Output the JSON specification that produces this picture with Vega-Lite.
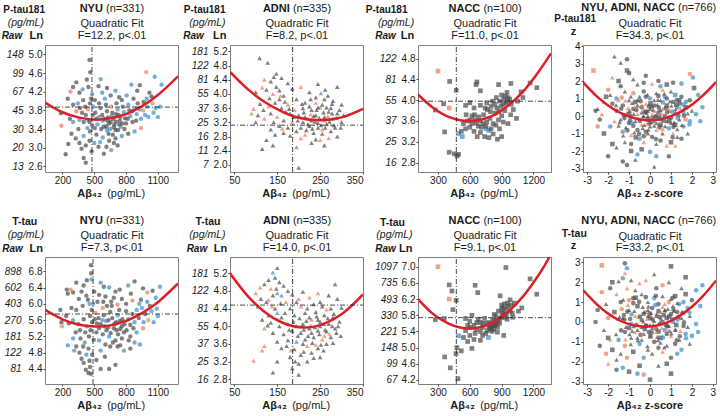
{
"$schema":"https://vega.github.io/schema/vega-lite/v6.json",
"padding":0,
"config":{"font":"Liberation Sans","view":{"stroke":"#7f7f7f","strokeWidth":1},
"axis":{"grid":false,"domain":false,"labelFont":"Liberation Sans","labelFontSize":10,"labelColor":"#1a1a1a","labelOverlap":false,"labelFlush":false,"labelBound":false,"tickSize":2,"tickColor":"#444","labelPadding":1,"titleFont":"Liberation Sans","titleFontSize":11,"titleFontWeight":"normal","titleColor":"#1a1a1a","titleBaseline":"alphabetic","titleAngle":0,"titlePadding":0}},
"datasets":{
"nyuP":[{"x":455,"y":4.88,"g":"a"},{"x":462,"y":4.62,"g":"a"},{"x":430,"y":4.46,"g":"a"},{"x":330,"y":4.4,"g":"a"},{"x":300,"y":4.3,"g":"a"},{"x":990,"y":4.62,"g":"c"},{"x":1070,"y":4.52,"g":"b"},{"x":560,"y":4.47,"g":"b"},{"x":275,"y":4.2,"g":"c"},{"x":850,"y":4.35,"g":"b"},{"x":930,"y":4.34,"g":"a"},{"x":1020,"y":4.18,"g":"a"},{"x":1040,"y":4.1,"g":"a"},{"x":620,"y":4.28,"g":"a"},{"x":700,"y":4.22,"g":"b"},{"x":540,"y":4.32,"g":"a"},{"x":480,"y":4.15,"g":"b"},{"x":390,"y":4.25,"g":"b"},{"x":360,"y":4.18,"g":"a"},{"x":250,"y":4.05,"g":"a"},{"x":185,"y":3.74,"g":"a"},{"x":190,"y":3.47,"g":"c"},{"x":300,"y":3.92,"g":"a"},{"x":330,"y":3.78,"g":"c"},{"x":360,"y":3.6,"g":"b"},{"x":400,"y":3.55,"g":"a"},{"x":420,"y":3.7,"g":"a"},{"x":440,"y":3.82,"g":"c"},{"x":460,"y":3.95,"g":"a"},{"x":470,"y":4.05,"g":"a"},{"x":490,"y":3.88,"g":"b"},{"x":510,"y":3.75,"g":"a"},{"x":520,"y":3.62,"g":"a"},{"x":530,"y":3.5,"g":"b"},{"x":545,"y":3.95,"g":"a"},{"x":560,"y":3.85,"g":"a"},{"x":575,"y":3.7,"g":"a"},{"x":580,"y":3.58,"g":"b"},{"x":590,"y":3.45,"g":"a"},{"x":600,"y":4.05,"g":"b"},{"x":610,"y":3.92,"g":"a"},{"x":620,"y":3.78,"g":"a"},{"x":630,"y":3.65,"g":"a"},{"x":640,"y":3.52,"g":"a"},{"x":650,"y":3.4,"g":"b"},{"x":660,"y":3.88,"g":"c"},{"x":670,"y":3.75,"g":"a"},{"x":680,"y":3.62,"g":"a"},{"x":690,"y":3.5,"g":"a"},{"x":700,"y":3.38,"g":"a"},{"x":710,"y":3.95,"g":"a"},{"x":720,"y":3.82,"g":"b"},{"x":730,"y":3.7,"g":"a"},{"x":740,"y":3.58,"g":"a"},{"x":750,"y":3.45,"g":"b"},{"x":760,"y":4.02,"g":"a"},{"x":770,"y":3.88,"g":"a"},{"x":780,"y":3.76,"g":"b"},{"x":790,"y":3.63,"g":"a"},{"x":800,"y":3.52,"g":"a"},{"x":820,"y":3.92,"g":"b"},{"x":830,"y":3.8,"g":"a"},{"x":840,"y":3.68,"g":"b"},{"x":860,"y":3.55,"g":"a"},{"x":870,"y":4.05,"g":"a"},{"x":880,"y":3.85,"g":"b"},{"x":900,"y":3.72,"g":"b"},{"x":910,"y":3.95,"g":"a"},{"x":940,"y":3.62,"g":"b"},{"x":960,"y":3.8,"g":"c"},{"x":980,"y":3.7,"g":"b"},{"x":1000,"y":3.88,"g":"b"},{"x":1010,"y":3.66,"g":"b"},{"x":1050,"y":3.95,"g":"c"},{"x":1080,"y":3.85,"g":"b"},{"x":1100,"y":3.66,"g":"b"},{"x":940,"y":3.42,"g":"c"},{"x":880,"y":3.35,"g":"b"},{"x":820,"y":3.3,"g":"a"},{"x":760,"y":3.25,"g":"b"},{"x":700,"y":3.2,"g":"a"},{"x":640,"y":3.15,"g":"a"},{"x":580,"y":3.22,"g":"b"},{"x":520,"y":3.28,"g":"a"},{"x":460,"y":3.35,"g":"a"},{"x":400,"y":3.25,"g":"b"},{"x":360,"y":3.1,"g":"a"},{"x":420,"y":3.05,"g":"a"},{"x":380,"y":2.98,"g":"a"},{"x":400,"y":2.78,"g":"a"},{"x":420,"y":2.68,"g":"a"},{"x":230,"y":2.86,"g":"a"},{"x":590,"y":2.87,"g":"a"},{"x":660,"y":2.95,"g":"b"},{"x":720,"y":3.05,"g":"a"},{"x":500,"y":3.1,"g":"b"},{"x":540,"y":3.02,"g":"a"},{"x":620,"y":3.38,"g":"b"},{"x":480,"y":3.48,"g":"a"},{"x":440,"y":3.6,"g":"b"},{"x":350,"y":3.4,"g":"a"},{"x":300,"y":3.55,"g":"b"},{"x":270,"y":3.62,"g":"a"},
{"x":615,"y":3.46,"g":"a"},{"x":655,"y":3.55,"g":"a"},{"x":685,"y":3.44,"g":"a"},{"x":705,"y":3.56,"g":"a"},{"x":725,"y":3.38,"g":"a"},{"x":745,"y":3.66,"g":"a"},{"x":765,"y":3.52,"g":"a"},{"x":635,"y":3.3,"g":"a"},{"x":675,"y":3.28,"g":"a"},{"x":595,"y":3.62,"g":"a"},{"x":565,"y":3.4,"g":"a"},{"x":545,"y":3.66,"g":"b"},{"x":505,"y":3.42,"g":"a"},{"x":485,"y":3.7,"g":"a"},{"x":455,"y":3.55,"g":"a"},{"x":435,"y":3.42,"g":"b"},{"x":415,"y":3.88,"g":"a"},{"x":385,"y":3.75,"g":"a"},{"x":395,"y":4.02,"g":"a"},{"x":345,"y":3.95,"g":"b"},{"x":325,"y":3.2,"g":"a"},{"x":285,"y":3.3,"g":"a"},{"x":255,"y":3.08,"g":"a"},{"x":455,"y":3.15,"g":"a"},{"x":475,"y":2.92,"g":"a"},{"x":555,"y":3.12,"g":"b"},{"x":615,"y":3.02,"g":"a"},{"x":685,"y":3.1,"g":"a"},{"x":785,"y":3.4,"g":"a"},{"x":815,"y":3.62,"g":"a"},{"x":855,"y":3.78,"g":"a"},{"x":895,"y":3.58,"g":"a"},{"x":925,"y":3.82,"g":"b"},{"x":965,"y":3.98,"g":"a"},{"x":995,"y":4.05,"g":"b"},{"x":1060,"y":3.75,"g":"b"},{"x":1120,"y":3.88,"g":"b"},{"x":1135,"y":4.35,"g":"b"},{"x":905,"y":4.22,"g":"a"},{"x":805,"y":4.12,"g":"b"},{"x":735,"y":4.08,"g":"a"},{"x":655,"y":4.12,"g":"a"},{"x":575,"y":4.18,"g":"b"},{"x":505,"y":4.02,"g":"a"},{"x":445,"y":4.3,"g":"a"},{"x":365,"y":3.85,"g":"a"},{"x":705,"y":3.72,"g":"a"},{"x":625,"y":3.58,"g":"a"},{"x":665,"y":3.68,"g":"b"},{"x":735,"y":3.5,"g":"a"}],
"adniP":[{"x":109,"y":5.01,"g":"a"},{"x":128,"y":4.88,"g":"a"},{"x":148,"y":4.57,"g":"a"},{"x":142,"y":4.48,"g":"a"},{"x":120,"y":4.4,"g":"c"},{"x":135,"y":4.35,"g":"a"},{"x":160,"y":4.45,"g":"a"},{"x":175,"y":4.3,"g":"a"},{"x":115,"y":4.18,"g":"c"},{"x":125,"y":4.12,"g":"a"},{"x":100,"y":4.05,"g":"a"},{"x":140,"y":4.0,"g":"c"},{"x":155,"y":4.1,"g":"a"},{"x":165,"y":3.95,"g":"a"},{"x":185,"y":4.15,"g":"a"},{"x":205,"y":4.2,"g":"c"},{"x":225,"y":4.05,"g":"a"},{"x":245,"y":4.28,"g":"a"},{"x":252,"y":4.02,"g":"b"},{"x":268,"y":3.95,"g":"a"},{"x":290,"y":4.2,"g":"a"},{"x":280,"y":3.8,"g":"a"},{"x":260,"y":3.85,"g":"a"},{"x":240,"y":3.9,"g":"a"},{"x":215,"y":3.75,"g":"a"},{"x":195,"y":3.85,"g":"a"},{"x":175,"y":3.7,"g":"c"},{"x":160,"y":3.6,"g":"a"},{"x":145,"y":3.75,"g":"a"},{"x":130,"y":3.65,"g":"c"},{"x":110,"y":3.72,"g":"a"},{"x":95,"y":3.58,"g":"c"},{"x":90,"y":3.45,"g":"c"},{"x":105,"y":3.4,"g":"a"},{"x":120,"y":3.3,"g":"c"},{"x":135,"y":3.45,"g":"a"},{"x":150,"y":3.35,"g":"c"},{"x":165,"y":3.25,"g":"a"},{"x":180,"y":3.45,"g":"a"},{"x":190,"y":3.55,"g":"c"},{"x":200,"y":3.4,"g":"a"},{"x":210,"y":3.6,"g":"a"},{"x":220,"y":3.3,"g":"c"},{"x":230,"y":3.55,"g":"a"},{"x":240,"y":3.4,"g":"a"},{"x":250,"y":3.62,"g":"c"},{"x":260,"y":3.35,"g":"a"},{"x":270,"y":3.5,"g":"a"},{"x":280,"y":3.3,"g":"a"},{"x":290,"y":3.45,"g":"a"},{"x":300,"y":3.2,"g":"a"},{"x":285,"y":3.05,"g":"a"},{"x":275,"y":2.95,"g":"a"},{"x":265,"y":3.15,"g":"a"},{"x":255,"y":3.0,"g":"c"},{"x":245,"y":3.18,"g":"a"},{"x":235,"y":2.9,"g":"a"},{"x":225,"y":3.1,"g":"a"},{"x":215,"y":2.85,"g":"c"},{"x":205,"y":3.05,"g":"a"},{"x":195,"y":2.95,"g":"a"},{"x":185,"y":3.2,"g":"c"},{"x":175,"y":3.05,"g":"a"},{"x":165,"y":2.9,"g":"a"},{"x":155,"y":3.1,"g":"a"},{"x":145,"y":2.85,"g":"a"},{"x":135,"y":3.0,"g":"a"},{"x":125,"y":2.7,"g":"a"},{"x":140,"y":2.55,"g":"a"},{"x":195,"y":2.5,"g":"b"},{"x":230,"y":2.62,"g":"a"},{"x":250,"y":2.7,"g":"c"},{"x":260,"y":2.55,"g":"a"},{"x":270,"y":2.75,"g":"c"},{"x":290,"y":2.8,"g":"a"},{"x":200,"y":1.92,"g":"a"},{"x":115,"y":2.45,"g":"a"},{"x":240,"y":3.75,"g":"c"},{"x":255,"y":3.7,"g":"a"},{"x":230,"y":3.25,"g":"a"},{"x":260,"y":3.25,"g":"c"},{"x":245,"y":3.05,"g":"a"},{"x":235,"y":3.38,"g":"a"},{"x":225,"y":3.65,"g":"a"},{"x":210,"y":3.2,"g":"a"},{"x":275,"y":3.6,"g":"a"},{"x":300,"y":3.7,"g":"a"},{"x":100,"y":3.2,"g":"a"},{"x":170,"y":3.5,"g":"a"},{"x":155,"y":3.85,"g":"a"},
{"x":212,"y":3.48,"g":"a"},{"x":222,"y":3.15,"g":"a"},{"x":228,"y":3.42,"g":"c"},{"x":238,"y":3.22,"g":"a"},{"x":242,"y":3.55,"g":"a"},{"x":248,"y":3.32,"g":"a"},{"x":252,"y":3.12,"g":"a"},{"x":258,"y":3.48,"g":"a"},{"x":262,"y":3.05,"g":"a"},{"x":268,"y":3.38,"g":"c"},{"x":272,"y":3.22,"g":"a"},{"x":278,"y":3.45,"g":"a"},{"x":282,"y":3.12,"g":"a"},{"x":288,"y":3.32,"g":"a"},{"x":295,"y":3.55,"g":"a"},{"x":232,"y":3.02,"g":"a"},{"x":218,"y":2.98,"g":"a"},{"x":198,"y":3.25,"g":"a"},{"x":188,"y":3.35,"g":"a"},{"x":178,"y":3.58,"g":"a"},{"x":168,"y":3.78,"g":"a"},{"x":158,"y":3.95,"g":"c"},{"x":148,"y":4.2,"g":"a"},{"x":132,"y":3.88,"g":"a"},{"x":118,"y":3.55,"g":"a"},{"x":142,"y":3.2,"g":"a"},{"x":162,"y":3.02,"g":"c"},{"x":208,"y":3.72,"g":"a"},{"x":228,"y":3.85,"g":"a"},{"x":262,"y":4.12,"g":"a"},{"x":278,"y":3.72,"g":"a"},{"x":298,"y":3.05,"g":"a"},{"x":305,"y":3.4,"g":"a"},{"x":255,"y":2.88,"g":"a"},{"x":240,"y":2.72,"g":"a"},{"x":205,"y":2.75,"g":"c"},{"x":180,"y":2.82,"g":"a"},{"x":265,"y":3.62,"g":"a"},{"x":245,"y":3.62,"g":"a"},{"x":215,"y":3.35,"g":"a"}],
"naccP":[{"x":300,"y":4.56,"g":"c"},{"x":410,"y":4.36,"g":"a"},{"x":472,"y":4.19,"g":"a"},{"x":406,"y":3.85,"g":"c"},{"x":353,"y":3.93,"g":"a"},{"x":275,"y":3.81,"g":"a"},{"x":363,"y":3.39,"g":"a"},{"x":406,"y":3.0,"g":"a"},{"x":455,"y":2.97,"g":"a"},{"x":494,"y":2.96,"g":"a"},{"x":480,"y":2.93,"g":"a"},{"x":667,"y":4.35,"g":"a"},{"x":660,"y":4.3,"g":"a"},{"x":700,"y":4.18,"g":"a"},{"x":871,"y":4.3,"g":"a"},{"x":987,"y":4.32,"g":"a"},{"x":1168,"y":4.33,"g":"a"},{"x":1231,"y":4.24,"g":"a"},{"x":1083,"y":4.16,"g":"a"},{"x":494,"y":3.36,"g":"b"},{"x":530,"y":3.3,"g":"b"},{"x":754,"y":3.45,"g":"b"},{"x":780,"y":3.42,"g":"b"},{"x":560,"y":3.9,"g":"a"},{"x":600,"y":3.95,"g":"a"},{"x":640,"y":3.85,"g":"a"},{"x":700,"y":3.9,"g":"a"},{"x":760,"y":3.95,"g":"a"},{"x":800,"y":3.88,"g":"a"},{"x":850,"y":4.05,"g":"a"},{"x":880,"y":3.98,"g":"a"},{"x":900,"y":4.1,"g":"a"},{"x":920,"y":4.02,"g":"a"},{"x":940,"y":3.95,"g":"a"},{"x":960,"y":4.05,"g":"a"},{"x":990,"y":3.92,"g":"a"},{"x":1010,"y":3.82,"g":"a"},{"x":930,"y":3.8,"g":"a"},{"x":900,"y":3.7,"g":"a"},{"x":870,"y":3.62,"g":"a"},{"x":840,"y":3.75,"g":"a"},{"x":820,"y":3.55,"g":"a"},{"x":790,"y":3.65,"g":"a"},{"x":760,"y":3.58,"g":"a"},{"x":730,"y":3.72,"g":"a"},{"x":700,"y":3.6,"g":"a"},{"x":680,"y":3.5,"g":"a"},{"x":650,"y":3.62,"g":"a"},{"x":620,"y":3.55,"g":"a"},{"x":600,"y":3.48,"g":"a"},{"x":580,"y":3.6,"g":"a"},{"x":560,"y":3.45,"g":"a"},{"x":540,"y":3.55,"g":"a"},{"x":520,"y":3.4,"g":"a"},{"x":640,"y":3.4,"g":"a"},{"x":670,"y":3.3,"g":"a"},{"x":700,"y":3.38,"g":"a"},{"x":740,"y":3.3,"g":"a"},{"x":780,"y":3.28,"g":"a"},{"x":820,"y":3.35,"g":"a"},{"x":860,"y":3.25,"g":"a"},{"x":900,"y":3.3,"g":"a"},{"x":960,"y":3.55,"g":"a"},{"x":1040,"y":3.65,"g":"a"},{"x":710,"y":3.48,"g":"a"},{"x":750,"y":3.5,"g":"a"},{"x":660,"y":3.56,"g":"a"},{"x":800,"y":3.45,"g":"a"},{"x":880,"y":3.45,"g":"a"},{"x":950,"y":4.15,"g":"a"},{"x":1100,"y":4.05,"g":"a"},{"x":1050,"y":3.98,"g":"a"},{"x":620,"y":3.7,"g":"a"},
{"x":765,"y":3.82,"g":"a"},{"x":795,"y":3.78,"g":"a"},{"x":815,"y":3.98,"g":"a"},{"x":835,"y":3.92,"g":"a"},{"x":855,"y":3.85,"g":"a"},{"x":875,"y":3.78,"g":"a"},{"x":895,"y":3.88,"g":"a"},{"x":915,"y":3.92,"g":"a"},{"x":935,"y":4.08,"g":"a"},{"x":955,"y":3.98,"g":"a"},{"x":975,"y":4.02,"g":"a"},{"x":915,"y":3.58,"g":"a"},{"x":845,"y":3.52,"g":"a"},{"x":725,"y":3.55,"g":"a"},{"x":685,"y":3.68,"g":"a"},{"x":645,"y":3.72,"g":"a"},{"x":605,"y":3.62,"g":"a"},{"x":565,"y":3.72,"g":"a"},{"x":745,"y":3.85,"g":"a"},{"x":985,"y":3.72,"g":"a"}],
"nyuT":[{"x":468,"y":6.95,"g":"a"},{"x":470,"y":6.75,"g":"a"},{"x":475,"y":6.6,"g":"b"},{"x":430,"y":6.58,"g":"a"},{"x":400,"y":6.45,"g":"a"},{"x":330,"y":6.52,"g":"a"},{"x":560,"y":6.52,"g":"b"},{"x":590,"y":6.42,"g":"a"},{"x":240,"y":6.35,"g":"a"},{"x":275,"y":6.35,"g":"c"},{"x":300,"y":6.28,"g":"a"},{"x":250,"y":6.25,"g":"a"},{"x":380,"y":6.3,"g":"a"},{"x":500,"y":6.3,"g":"a"},{"x":640,"y":6.4,"g":"b"},{"x":700,"y":6.3,"g":"a"},{"x":740,"y":6.35,"g":"a"},{"x":820,"y":6.45,"g":"b"},{"x":880,"y":6.55,"g":"a"},{"x":960,"y":6.38,"g":"a"},{"x":1000,"y":6.28,"g":"c"},{"x":1050,"y":6.32,"g":"a"},{"x":1120,"y":6.42,"g":"b"},{"x":1080,"y":6.15,"g":"b"},{"x":1000,"y":6.05,"g":"b"},{"x":940,"y":6.1,"g":"a"},{"x":860,"y":6.08,"g":"c"},{"x":800,"y":6.0,"g":"a"},{"x":760,"y":6.12,"g":"a"},{"x":720,"y":5.98,"g":"c"},{"x":660,"y":6.05,"g":"a"},{"x":620,"y":5.95,"g":"a"},{"x":580,"y":5.9,"g":"c"},{"x":530,"y":6.05,"g":"a"},{"x":490,"y":6.0,"g":"b"},{"x":440,"y":6.1,"g":"a"},{"x":390,"y":5.95,"g":"a"},{"x":330,"y":5.85,"g":"a"},{"x":180,"y":5.85,"g":"a"},{"x":190,"y":5.55,"g":"a"},{"x":195,"y":5.45,"g":"c"},{"x":260,"y":5.52,"g":"a"},{"x":300,"y":5.6,"g":"b"},{"x":350,"y":5.5,"g":"a"},{"x":400,"y":5.62,"g":"a"},{"x":430,"y":5.45,"g":"b"},{"x":460,"y":5.7,"g":"a"},{"x":480,"y":5.55,"g":"a"},{"x":510,"y":5.78,"g":"c"},{"x":540,"y":5.65,"g":"a"},{"x":560,"y":5.5,"g":"a"},{"x":590,"y":5.72,"g":"a"},{"x":610,"y":5.58,"g":"b"},{"x":630,"y":5.42,"g":"a"},{"x":650,"y":5.8,"g":"a"},{"x":670,"y":5.65,"g":"a"},{"x":690,"y":5.5,"g":"a"},{"x":710,"y":5.35,"g":"a"},{"x":720,"y":5.72,"g":"b"},{"x":740,"y":5.58,"g":"a"},{"x":760,"y":5.45,"g":"a"},{"x":780,"y":5.3,"g":"a"},{"x":800,"y":5.82,"g":"a"},{"x":820,"y":5.62,"g":"b"},{"x":840,"y":5.48,"g":"a"},{"x":860,"y":5.75,"g":"a"},{"x":880,"y":5.55,"g":"b"},{"x":900,"y":5.85,"g":"b"},{"x":920,"y":5.65,"g":"a"},{"x":950,"y":5.9,"g":"b"},{"x":980,"y":5.75,"g":"a"},{"x":1010,"y":5.6,"g":"c"},{"x":1040,"y":5.82,"g":"b"},{"x":1060,"y":5.55,"g":"b"},{"x":1100,"y":5.7,"g":"b"},{"x":960,"y":5.4,"g":"c"},{"x":900,"y":5.3,"g":"b"},{"x":840,"y":5.2,"g":"a"},{"x":760,"y":5.15,"g":"a"},{"x":700,"y":5.1,"g":"a"},{"x":640,"y":5.2,"g":"b"},{"x":580,"y":5.25,"g":"a"},{"x":520,"y":5.3,"g":"a"},{"x":450,"y":5.2,"g":"a"},{"x":410,"y":5.05,"g":"b"},{"x":370,"y":5.15,"g":"a"},{"x":330,"y":4.95,"g":"a"},{"x":310,"y":4.85,"g":"b"},{"x":360,"y":4.8,"g":"a"},{"x":380,"y":4.65,"g":"a"},{"x":400,"y":4.55,"g":"a"},{"x":420,"y":4.38,"g":"a"},{"x":445,"y":4.3,"g":"a"},{"x":460,"y":4.45,"g":"a"},{"x":470,"y":4.28,"g":"a"},{"x":520,"y":4.62,"g":"a"},{"x":560,"y":4.85,"g":"b"},{"x":600,"y":4.7,"g":"a"},{"x":650,"y":4.95,"g":"a"},{"x":700,"y":4.5,"g":"a"},{"x":780,"y":4.85,"g":"b"},{"x":720,"y":4.95,"g":"a"},{"x":840,"y":4.9,"g":"a"},{"x":880,"y":5.05,"g":"b"},{"x":930,"y":5.0,"g":"b"},{"x":640,"y":4.4,"g":"a"},{"x":560,"y":4.4,"g":"a"},{"x":480,"y":4.75,"g":"a"},{"x":300,"y":5.15,"g":"b"},{"x":250,"y":4.98,"g":"b"},
{"x":615,"y":5.35,"g":"a"},{"x":655,"y":5.28,"g":"a"},{"x":685,"y":5.4,"g":"a"},{"x":705,"y":5.55,"g":"a"},{"x":725,"y":5.25,"g":"a"},{"x":745,"y":5.38,"g":"a"},{"x":765,"y":5.62,"g":"a"},{"x":785,"y":5.5,"g":"a"},{"x":805,"y":5.35,"g":"a"},{"x":635,"y":5.6,"g":"a"},{"x":595,"y":5.45,"g":"a"},{"x":575,"y":5.6,"g":"b"},{"x":545,"y":5.4,"g":"a"},{"x":525,"y":5.52,"g":"a"},{"x":505,"y":5.62,"g":"a"},{"x":495,"y":5.12,"g":"a"},{"x":475,"y":5.85,"g":"a"},{"x":455,"y":6.0,"g":"b"},{"x":465,"y":5.35,"g":"a"},{"x":445,"y":4.9,"g":"a"},{"x":455,"y":4.6,"g":"a"},{"x":425,"y":4.75,"g":"b"},{"x":395,"y":4.95,"g":"a"},{"x":415,"y":5.3,"g":"a"},{"x":365,"y":5.35,"g":"a"},{"x":325,"y":5.3,"g":"a"},{"x":235,"y":5.7,"g":"a"},{"x":285,"y":5.9,"g":"a"},{"x":425,"y":6.2,"g":"a"},{"x":355,"y":6.12,"g":"a"},{"x":545,"y":6.22,"g":"a"},{"x":605,"y":6.18,"g":"a"},{"x":685,"y":6.15,"g":"a"},{"x":845,"y":6.25,"g":"a"},{"x":925,"y":6.0,"g":"b"},{"x":965,"y":5.55,"g":"b"},{"x":1025,"y":5.95,"g":"a"},{"x":1090,"y":5.88,"g":"b"},{"x":870,"y":5.4,"g":"a"},{"x":825,"y":5.1,"g":"a"},{"x":745,"y":4.98,"g":"a"},{"x":675,"y":5.05,"g":"a"},{"x":605,"y":5.0,"g":"a"},{"x":545,"y":5.1,"g":"b"},{"x":735,"y":5.85,"g":"a"},{"x":665,"y":5.95,"g":"a"},{"x":585,"y":6.05,"g":"a"}],
"adniT":[{"x":150,"y":5.32,"g":"a"},{"x":140,"y":5.22,"g":"b"},{"x":145,"y":5.1,"g":"a"},{"x":130,"y":5.05,"g":"a"},{"x":155,"y":5.0,"g":"a"},{"x":120,"y":4.95,"g":"a"},{"x":165,"y":4.92,"g":"a"},{"x":110,"y":4.88,"g":"c"},{"x":135,"y":4.85,"g":"c"},{"x":175,"y":4.8,"g":"a"},{"x":100,"y":4.75,"g":"c"},{"x":150,"y":4.75,"g":"b"},{"x":160,"y":4.7,"g":"b"},{"x":140,"y":4.7,"g":"a"},{"x":185,"y":4.72,"g":"a"},{"x":210,"y":4.78,"g":"a"},{"x":245,"y":4.75,"g":"c"},{"x":285,"y":4.95,"g":"a"},{"x":270,"y":4.7,"g":"a"},{"x":225,"y":4.65,"g":"c"},{"x":290,"y":4.62,"g":"a"},{"x":195,"y":4.55,"g":"a"},{"x":170,"y":4.55,"g":"c"},{"x":125,"y":4.55,"g":"a"},{"x":105,"y":4.45,"g":"a"},{"x":145,"y":4.4,"g":"a"},{"x":180,"y":4.4,"g":"a"},{"x":205,"y":4.45,"g":"c"},{"x":235,"y":4.5,"g":"a"},{"x":255,"y":4.45,"g":"a"},{"x":275,"y":4.4,"g":"a"},{"x":300,"y":4.42,"g":"a"},{"x":150,"y":4.3,"g":"b"},{"x":130,"y":4.25,"g":"a"},{"x":160,"y":4.2,"g":"a"},{"x":115,"y":4.15,"g":"a"},{"x":190,"y":4.25,"g":"a"},{"x":215,"y":4.3,"g":"a"},{"x":240,"y":4.32,"g":"a"},{"x":260,"y":4.25,"g":"a"},{"x":280,"y":4.2,"g":"a"},{"x":295,"y":4.1,"g":"a"},{"x":270,"y":4.05,"g":"a"},{"x":250,"y":4.1,"g":"a"},{"x":230,"y":4.15,"g":"c"},{"x":210,"y":4.05,"g":"a"},{"x":195,"y":4.0,"g":"a"},{"x":175,"y":4.05,"g":"a"},{"x":155,"y":4.0,"g":"a"},{"x":135,"y":4.08,"g":"a"},{"x":120,"y":3.95,"g":"c"},{"x":140,"y":3.85,"g":"a"},{"x":165,"y":3.82,"g":"a"},{"x":185,"y":3.9,"g":"a"},{"x":205,"y":3.85,"g":"a"},{"x":225,"y":3.95,"g":"a"},{"x":245,"y":3.9,"g":"a"},{"x":265,"y":3.88,"g":"a"},{"x":285,"y":3.95,"g":"a"},{"x":275,"y":3.75,"g":"a"},{"x":255,"y":3.7,"g":"c"},{"x":235,"y":3.75,"g":"a"},{"x":215,"y":3.7,"g":"a"},{"x":195,"y":3.65,"g":"b"},{"x":175,"y":3.68,"g":"a"},{"x":150,"y":3.65,"g":"a"},{"x":120,"y":3.55,"g":"c"},{"x":115,"y":3.45,"g":"c"},{"x":160,"y":3.5,"g":"a"},{"x":190,"y":3.48,"g":"a"},{"x":220,"y":3.55,"g":"c"},{"x":245,"y":3.5,"g":"a"},{"x":265,"y":3.6,"g":"a"},{"x":230,"y":3.4,"g":"a"},{"x":205,"y":3.35,"g":"a"},{"x":180,"y":3.3,"g":"a"},{"x":150,"y":3.2,"g":"a"},{"x":200,"y":3.15,"g":"a"},{"x":185,"y":3.05,"g":"a"},{"x":220,"y":3.2,"g":"a"},{"x":250,"y":3.3,"g":"a"},{"x":95,"y":3.22,"g":"c"},{"x":140,"y":2.95,"g":"a"},{"x":200,"y":2.9,"g":"a"},{"x":240,"y":3.58,"g":"c"},{"x":260,"y":3.78,"g":"c"},{"x":210,"y":3.6,"g":"a"},{"x":230,"y":3.85,"g":"a"},{"x":250,"y":4.0,"g":"a"},{"x":225,"y":4.2,"g":"a"},{"x":130,"y":4.6,"g":"c"},
{"x":212,"y":3.92,"g":"a"},{"x":218,"y":4.12,"g":"a"},{"x":222,"y":3.78,"g":"a"},{"x":228,"y":4.02,"g":"c"},{"x":232,"y":3.62,"g":"a"},{"x":238,"y":3.98,"g":"a"},{"x":242,"y":4.22,"g":"a"},{"x":248,"y":3.82,"g":"a"},{"x":252,"y":3.58,"g":"a"},{"x":258,"y":4.05,"g":"a"},{"x":262,"y":3.92,"g":"a"},{"x":268,"y":4.18,"g":"a"},{"x":272,"y":3.82,"g":"c"},{"x":278,"y":4.0,"g":"a"},{"x":282,"y":4.28,"g":"a"},{"x":288,"y":3.85,"g":"a"},{"x":292,"y":4.0,"g":"a"},{"x":202,"y":4.18,"g":"a"},{"x":198,"y":3.78,"g":"a"},{"x":188,"y":4.1,"g":"a"},{"x":178,"y":3.92,"g":"a"},{"x":168,"y":4.3,"g":"a"},{"x":158,"y":4.52,"g":"a"},{"x":148,"y":4.85,"g":"a"},{"x":138,"y":4.45,"g":"c"},{"x":128,"y":4.02,"g":"a"},{"x":112,"y":4.62,"g":"a"},{"x":172,"y":3.55,"g":"a"},{"x":182,"y":3.45,"g":"c"},{"x":192,"y":3.2,"g":"a"},{"x":212,"y":3.42,"g":"a"},{"x":235,"y":3.28,"g":"a"},{"x":258,"y":3.45,"g":"a"},{"x":280,"y":3.62,"g":"a"},{"x":298,"y":3.78,"g":"a"},{"x":265,"y":4.38,"g":"c"},{"x":250,"y":4.55,"g":"a"},{"x":220,"y":4.4,"g":"a"},{"x":200,"y":4.62,"g":"c"},{"x":245,"y":4.15,"g":"a"}],
"naccT":[{"x":300,"y":7.0,"g":"c"},{"x":406,"y":6.2,"g":"c"},{"x":406,"y":6.55,"g":"a"},{"x":432,"y":6.4,"g":"a"},{"x":472,"y":6.17,"g":"a"},{"x":441,"y":5.94,"g":"a"},{"x":275,"y":5.69,"g":"a"},{"x":360,"y":5.72,"g":"a"},{"x":494,"y":5.29,"g":"b"},{"x":776,"y":5.25,"g":"b"},{"x":363,"y":4.77,"g":"a"},{"x":416,"y":4.5,"g":"a"},{"x":478,"y":5.0,"g":"a"},{"x":488,"y":4.23,"g":"a"},{"x":470,"y":4.85,"g":"a"},{"x":520,"y":4.92,"g":"a"},{"x":620,"y":4.98,"g":"a"},{"x":650,"y":6.54,"g":"a"},{"x":675,"y":6.36,"g":"a"},{"x":940,"y":6.98,"g":"a"},{"x":886,"y":6.28,"g":"a"},{"x":980,"y":6.18,"g":"a"},{"x":1090,"y":5.98,"g":"a"},{"x":1168,"y":6.7,"g":"a"},{"x":1231,"y":6.32,"g":"a"},{"x":1058,"y":5.9,"g":"a"},{"x":560,"y":5.72,"g":"a"},{"x":600,"y":5.65,"g":"a"},{"x":640,"y":5.55,"g":"a"},{"x":680,"y":5.7,"g":"a"},{"x":700,"y":5.62,"g":"a"},{"x":720,"y":5.5,"g":"a"},{"x":740,"y":5.72,"g":"a"},{"x":760,"y":5.6,"g":"a"},{"x":790,"y":5.48,"g":"a"},{"x":820,"y":5.55,"g":"a"},{"x":840,"y":5.68,"g":"a"},{"x":860,"y":5.5,"g":"a"},{"x":880,"y":5.6,"g":"a"},{"x":900,"y":5.75,"g":"a"},{"x":920,"y":5.85,"g":"a"},{"x":940,"y":5.95,"g":"a"},{"x":960,"y":6.02,"g":"a"},{"x":900,"y":6.05,"g":"a"},{"x":870,"y":5.9,"g":"a"},{"x":830,"y":5.82,"g":"a"},{"x":800,"y":5.45,"g":"a"},{"x":810,"y":5.4,"g":"a"},{"x":780,"y":5.52,"g":"a"},{"x":700,"y":5.4,"g":"a"},{"x":650,"y":5.35,"g":"a"},{"x":600,"y":5.3,"g":"a"},{"x":560,"y":5.42,"g":"a"},{"x":540,"y":5.25,"g":"a"},{"x":580,"y":5.15,"g":"a"},{"x":640,"y":5.2,"g":"a"},{"x":700,"y":5.18,"g":"a"},{"x":750,"y":5.35,"g":"a"},{"x":860,"y":5.38,"g":"a"},{"x":920,"y":5.3,"g":"a"},{"x":1000,"y":5.85,"g":"a"},{"x":950,"y":5.7,"g":"a"},{"x":620,"y":5.8,"g":"a"},{"x":580,"y":5.55,"g":"a"},{"x":720,"y":5.3,"g":"a"},{"x":660,"y":5.45,"g":"a"},{"x":900,"y":5.95,"g":"a"},{"x":980,"y":5.9,"g":"a"},{"x":1020,"y":6.1,"g":"a"},{"x":850,"y":5.58,"g":"a"},
{"x":785,"y":5.62,"g":"a"},{"x":805,"y":5.52,"g":"a"},{"x":815,"y":5.68,"g":"a"},{"x":825,"y":5.45,"g":"a"},{"x":835,"y":5.55,"g":"a"},{"x":845,"y":5.78,"g":"a"},{"x":865,"y":5.65,"g":"a"},{"x":885,"y":5.72,"g":"a"},{"x":905,"y":5.85,"g":"a"},{"x":915,"y":5.98,"g":"a"},{"x":925,"y":6.08,"g":"a"},{"x":935,"y":5.75,"g":"a"},{"x":945,"y":5.82,"g":"a"},{"x":955,"y":6.1,"g":"a"},{"x":985,"y":6.05,"g":"a"},{"x":1005,"y":5.75,"g":"a"},{"x":765,"y":5.42,"g":"a"},{"x":725,"y":5.6,"g":"a"},{"x":665,"y":5.62,"g":"a"},{"x":605,"y":5.5,"g":"a"}],
"allP":[{"x":-1.7,"y":3.4,"g":"a","s":"ADNI"},{"x":-1.1,"y":3.25,"g":"a","s":"NYU"},{"x":-1.4,"y":3.05,"g":"a","s":"ADNI"},{"x":-1.1,"y":2.6,"g":"a","s":"NACC"},{"x":-1.0,"y":2.45,"g":"a","s":"NYU"},{"x":-2.7,"y":2.6,"g":"c","s":"NACC"},{"x":-1.8,"y":2.2,"g":"c","s":"ADNI"},{"x":-1.5,"y":2.0,"g":"a","s":"NACC"},{"x":-0.8,"y":2.1,"g":"a","s":"ADNI"},{"x":-0.3,"y":1.9,"g":"a","s":"NYU"},{"x":0.1,"y":1.85,"g":"c","s":"ADNI"},{"x":0.5,"y":1.7,"g":"b","s":"NYU"},{"x":0.8,"y":1.8,"g":"a","s":"NACC"},{"x":1.1,"y":1.9,"g":"a","s":"NYU"},{"x":1.5,"y":1.85,"g":"b","s":"NYU"},{"x":1.9,"y":2.4,"g":"c","s":"NYU"},{"x":2.05,"y":2.2,"g":"b","s":"NYU"},{"x":2.1,"y":1.6,"g":"a","s":"NACC"},{"x":2.3,"y":1.2,"g":"b","s":"NYU"},{"x":2.5,"y":0.5,"g":"b","s":"NYU"},{"x":2.0,"y":0.3,"g":"a","s":"ADNI"},{"x":-2.5,"y":0.4,"g":"a","s":"ADNI"},{"x":-2.6,"y":0.3,"g":"a","s":"NYU"},{"x":-2.5,"y":-0.6,"g":"c","s":"NYU"},{"x":-2.3,"y":0.1,"g":"c","s":"ADNI"},{"x":-2.1,"y":1.1,"g":"a","s":"NACC"},{"x":-2.0,"y":1.5,"g":"c","s":"NYU"},{"x":-2.2,"y":0.8,"g":"c","s":"ADNI"},{"x":-1.9,"y":1.2,"g":"a","s":"ADNI"},{"x":-1.9,"y":-0.6,"g":"b","s":"NYU"},{"x":-2.0,"y":-2.3,"g":"a","s":"NYU"},{"x":-1.8,"y":-1.6,"g":"a","s":"NACC"},{"x":-1.6,"y":-1.8,"g":"a","s":"ADNI"},{"x":-1.3,"y":-2.6,"g":"a","s":"NYU"},{"x":-1.1,"y":-2.8,"g":"a","s":"NYU"},{"x":-0.9,"y":-2.0,"g":"a","s":"NACC"},{"x":-0.6,"y":-2.2,"g":"b","s":"NYU"},{"x":-0.4,"y":-1.9,"g":"a","s":"NACC"},{"x":0.0,"y":-2.05,"g":"b","s":"NYU"},{"x":0.3,"y":-1.6,"g":"a","s":"ADNI"},{"x":0.2,"y":-2.9,"g":"a","s":"ADNI"},{"x":0.8,"y":-1.7,"g":"c","s":"ADNI"},{"x":1.0,"y":-1.5,"g":"a","s":"NACC"},{"x":1.3,"y":-1.2,"g":"a","s":"ADNI"},{"x":1.5,"y":-1.3,"g":"a","s":"NYU"},{"x":1.8,"y":-1.0,"g":"a","s":"ADNI"},{"x":1.6,"y":-0.6,"g":"b","s":"NYU"},{"x":1.9,"y":-0.3,"g":"b","s":"NYU"},{"x":2.2,"y":0.1,"g":"b","s":"NYU"},{"x":1.7,"y":0.5,"g":"a","s":"NACC"},{"x":1.4,"y":0.9,"g":"a","s":"NYU"},{"x":1.2,"y":1.2,"g":"b","s":"NACC"},{"x":-1.5,"y":0.9,"g":"c","s":"ADNI"},{"x":-1.3,"y":0.6,"g":"a","s":"NYU"},{"x":-1.2,"y":1.4,"g":"a","s":"ADNI"},{"x":-1.1,"y":0.2,"g":"c","s":"ADNI"},{"x":-1.0,"y":-0.4,"g":"a","s":"NYU"},{"x":-1.0,"y":0.9,"g":"a","s":"ADNI"},{"x":-0.9,"y":-1.1,"g":"c","s":"ADNI"},{"x":-0.8,"y":0.4,"g":"a","s":"NYU"},{"x":-0.8,"y":1.3,"g":"c","s":"NYU"},{"x":-0.7,"y":-0.3,"g":"a","s":"ADNI"},{"x":-0.7,"y":0.8,"g":"a","s":"NACC"},{"x":-0.6,"y":-0.8,"g":"a","s":"NYU"},{"x":-0.6,"y":0.1,"g":"c","s":"ADNI"},{"x":-0.5,"y":1.1,"g":"a","s":"ADNI"},{"x":-0.5,"y":-1.3,"g":"b","s":"NYU"},{"x":-0.4,"y":0.5,"g":"a","s":"NYU"},{"x":-0.4,"y":-0.5,"g":"c","s":"ADNI"},{"x":-0.3,"y":0.0,"g":"a","s":"ADNI"},{"x":-0.3,"y":1.4,"g":"a","s":"NYU"},{"x":-0.2,"y":-0.9,"g":"a","s":"NYU"},{"x":-0.2,"y":0.7,"g":"c","s":"ADNI"},{"x":-0.1,"y":-0.2,"g":"a","s":"NACC"},{"x":-0.1,"y":0.3,"g":"a","s":"ADNI"},{"x":0.0,"y":1.0,"g":"b","s":"NYU"},{"x":0.0,"y":-0.6,"g":"a","s":"ADNI"},{"x":0.1,"y":0.1,"g":"c","s":"ADNI"},{"x":0.1,"y":-1.2,"g":"a","s":"NYU"},{"x":0.2,"y":0.6,"g":"a","s":"NYU"},{"x":0.2,"y":-0.3,"g":"a","s":"ADNI"},{"x":0.3,"y":1.3,"g":"a","s":"ADNI"},{"x":0.3,"y":-0.8,"g":"c","s":"ADNI"},{"x":0.4,"y":0.2,"g":"a","s":"NYU"},{"x":0.4,"y":-0.1,"g":"b","s":"NYU"},{"x":0.5,"y":0.9,"g":"a","s":"ADNI"},{"x":0.5,"y":-0.5,"g":"a","s":"NACC"},{"x":0.6,"y":0.4,"g":"c","s":"ADNI"},{"x":0.6,"y":-1.0,"g":"a","s":"ADNI"},{"x":0.7,"y":0.0,"g":"a","s":"NYU"},{"x":0.7,"y":1.1,"g":"b","s":"NYU"},{"x":0.8,"y":-0.3,"g":"a","s":"ADNI"},{"x":0.8,"y":0.6,"g":"a","s":"NACC"},{"x":0.9,"y":-0.7,"g":"b","s":"NYU"},{"x":0.9,"y":0.3,"g":"c","s":"ADNI"},{"x":1.0,"y":1.4,"g":"a","s":"ADNI"},{"x":1.0,"y":-0.1,"g":"a","s":"NYU"},{"x":1.1,"y":0.8,"g":"a","s":"NYU"},{"x":1.1,"y":-1.0,"g":"c","s":"ADNI"},{"x":1.2,"y":0.2,"g":"a","s":"ADNI"},{"x":1.2,"y":-0.5,"g":"a","s":"NACC"},{"x":1.3,"y":0.5,"g":"b","s":"NYU"},{"x":1.4,"y":-0.2,"g":"a","s":"ADNI"},{"x":1.5,"y":1.1,"g":"a","s":"NYU"},{"x":1.6,"y":0.2,"g":"b","s":"NYU"},{"x":1.7,"y":-0.2,"g":"c","s":"NYU"},{"x":-1.4,"y":-0.2,"g":"a","s":"ADNI"},{"x":-1.3,"y":-0.9,"g":"b","s":"NYU"},{"x":-1.6,"y":0.3,"g":"a","s":"NYU"},{"x":-1.7,"y":-0.3,"g":"c","s":"ADNI"},{"x":-1.8,"y":0.7,"g":"a","s":"NYU"},{"x":-1.2,"y":-1.5,"g":"a","s":"ADNI"},{"x":-0.9,"y":-1.6,"g":"a","s":"NYU"},{"x":-0.3,"y":-1.5,"g":"c","s":"ADNI"},{"x":0.5,"y":-1.4,"g":"a","s":"NYU"},{"x":1.2,"y":-1.7,"g":"c","s":"ADNI"},{"x":-2.2,"y":-1.0,"g":"a","s":"NACC"},{"x":-2.4,"y":-0.2,"g":"a","s":"NYU"},{"x":2.4,"y":-0.3,"g":"b","s":"NYU"},{"x":-0.2,"y":2.3,"g":"a","s":"NYU"},{"x":-0.6,"y":1.8,"g":"a","s":"ADNI"},{"x":0.4,"y":2.0,"g":"a","s":"NYU"},{"x":-1.4,"y":1.7,"g":"a","s":"NYU"},{"x":0.9,"y":-2.3,"g":"a","s":"NYU"},{"x":-0.1,"y":-1.0,"g":"a","s":"ADNI"},{"x":0.2,"y":0.9,"g":"a","s":"ADNI"},{"x":-0.9,"y":0.0,"g":"a","s":"ADNI"},{"x":0.6,"y":1.5,"g":"c","s":"ADNI"},{"x":-1.6,"y":1.0,"g":"b","s":"NYU"},{"x":1.9,"y":0.9,"g":"a","s":"NYU"},{"x":0.3,"y":-2.3,"g":"b","s":"NYU"},{"x":-0.7,"y":-2.5,"g":"a","s":"ADNI"},
{"x":-1.25,"y":0.05,"g":"a","s":"NYU"},{"x":-1.15,"y":-0.65,"g":"a","s":"ADNI"},{"x":-1.05,"y":0.45,"g":"c","s":"ADNI"},{"x":-0.95,"y":-0.25,"g":"a","s":"NYU"},{"x":-0.85,"y":0.75,"g":"a","s":"ADNI"},{"x":-0.75,"y":-0.95,"g":"a","s":"ADNI"},{"x":-0.65,"y":0.35,"g":"a","s":"NYU"},{"x":-0.55,"y":-0.15,"g":"c","s":"ADNI"},{"x":-0.45,"y":0.85,"g":"a","s":"NYU"},{"x":-0.35,"y":-0.7,"g":"a","s":"ADNI"},{"x":-0.25,"y":0.25,"g":"a","s":"NACC"},{"x":-0.15,"y":-0.45,"g":"c","s":"ADNI"},{"x":-0.05,"y":0.55,"g":"a","s":"NYU"},{"x":0.05,"y":-0.35,"g":"a","s":"ADNI"},{"x":0.15,"y":0.35,"g":"a","s":"ADNI"},{"x":0.25,"y":-0.05,"g":"b","s":"NYU"},{"x":0.35,"y":0.65,"g":"a","s":"ADNI"},{"x":0.45,"y":-0.65,"g":"a","s":"NYU"},{"x":0.55,"y":0.15,"g":"c","s":"ADNI"},{"x":0.65,"y":-0.25,"g":"a","s":"NACC"},{"x":0.75,"y":0.45,"g":"a","s":"NYU"},{"x":0.85,"y":-0.05,"g":"a","s":"ADNI"},{"x":0.95,"y":0.85,"g":"a","s":"ADNI"},{"x":1.05,"y":0.25,"g":"b","s":"NYU"},{"x":1.15,"y":-0.35,"g":"a","s":"ADNI"},{"x":1.25,"y":0.65,"g":"a","s":"NACC"},{"x":1.35,"y":0.05,"g":"a","s":"NYU"},{"x":1.45,"y":0.45,"g":"c","s":"ADNI"},{"x":-0.6,"y":0.6,"g":"a","s":"ADNI"},{"x":-0.2,"y":1.1,"g":"a","s":"NYU"},{"x":0.2,"y":-0.55,"g":"a","s":"ADNI"},{"x":0.6,"y":-0.75,"g":"c","s":"ADNI"},{"x":1.0,"y":-0.4,"g":"a","s":"ADNI"},{"x":-1.0,"y":0.1,"g":"a","s":"NACC"},{"x":-0.3,"y":-1.15,"g":"a","s":"NYU"},{"x":0.4,"y":1.15,"g":"a","s":"NYU"},{"x":0.0,"y":0.4,"g":"a","s":"ADNI"},{"x":-0.4,"y":0.2,"g":"a","s":"ADNI"},{"x":0.8,"y":1.0,"g":"a","s":"NYU"},{"x":1.3,"y":-0.75,"g":"a","s":"ADNI"},{"x":-1.35,"y":1.05,"g":"c","s":"NYU"},{"x":-1.5,"y":-0.55,"g":"a","s":"ADNI"},{"x":1.6,"y":0.65,"g":"b","s":"NYU"},{"x":1.8,"y":0.15,"g":"a","s":"ADNI"},{"x":-0.8,"y":-0.55,"g":"a","s":"NYU"},{"x":0.3,"y":0.0,"g":"a","s":"NYU"},{"x":-0.1,"y":0.0,"g":"a","s":"ADNI"},{"x":0.5,"y":0.35,"g":"a","s":"ADNI"},
{"x":-1.45,"y":-0.35,"g":"a","s":"ADNI"},{"x":-1.38,"y":0.42,"g":"a","s":"NYU"},{"x":-1.28,"y":-1.12,"g":"a","s":"ADNI"},{"x":-1.18,"y":0.88,"g":"c","s":"ADNI"},{"x":-1.08,"y":-0.82,"g":"a","s":"NYU"},{"x":-0.98,"y":0.32,"g":"a","s":"ADNI"},{"x":-0.88,"y":-0.38,"g":"b","s":"NYU"},{"x":-0.78,"y":0.12,"g":"a","s":"ADNI"},{"x":-0.68,"y":-1.22,"g":"a","s":"NACC"},{"x":-0.58,"y":0.92,"g":"a","s":"ADNI"},{"x":-0.48,"y":-0.28,"g":"a","s":"NYU"},{"x":-0.38,"y":0.62,"g":"c","s":"ADNI"},{"x":-0.28,"y":-0.52,"g":"a","s":"ADNI"},{"x":-0.18,"y":0.18,"g":"a","s":"NYU"},{"x":-0.08,"y":-0.78,"g":"a","s":"ADNI"},{"x":0.02,"y":0.72,"g":"a","s":"NACC"},{"x":0.12,"y":-0.12,"g":"a","s":"NYU"},{"x":0.22,"y":0.28,"g":"c","s":"ADNI"},{"x":0.32,"y":-0.42,"g":"a","s":"ADNI"},{"x":0.42,"y":0.48,"g":"a","s":"NYU"},{"x":0.52,"y":-0.18,"g":"a","s":"ADNI"},{"x":0.62,"y":0.78,"g":"b","s":"NYU"},{"x":0.72,"y":-0.58,"g":"a","s":"ADNI"},{"x":0.82,"y":0.22,"g":"a","s":"NYU"},{"x":0.92,"y":-0.28,"g":"a","s":"NACC"},{"x":1.02,"y":0.58,"g":"a","s":"ADNI"},{"x":1.12,"y":-0.62,"g":"a","s":"NYU"},{"x":1.22,"y":0.38,"g":"a","s":"ADNI"},{"x":1.32,"y":-0.12,"g":"b","s":"NYU"},{"x":1.42,"y":0.72,"g":"a","s":"NYU"},{"x":1.52,"y":-0.52,"g":"a","s":"ADNI"},{"x":1.62,"y":0.02,"g":"a","s":"NYU"},{"x":1.72,"y":0.82,"g":"b","s":"NYU"},{"x":-0.92,"y":1.12,"g":"a","s":"ADNI"},{"x":-0.52,"y":-1.02,"g":"a","s":"NYU"},{"x":-0.12,"y":1.22,"g":"a","s":"ADNI"},{"x":0.28,"y":-1.32,"g":"a","s":"NYU"},{"x":0.68,"y":1.28,"g":"a","s":"ADNI"},{"x":1.08,"y":-1.22,"g":"a","s":"NYU"},{"x":-1.22,"y":-0.12,"g":"a","s":"NYU"},{"x":-0.72,"y":0.52,"g":"c","s":"ADNI"},{"x":-0.32,"y":-0.02,"g":"a","s":"ADNI"},{"x":0.08,"y":0.52,"g":"a","s":"NYU"},{"x":0.48,"y":0.02,"g":"a","s":"ADNI"},{"x":0.88,"y":0.42,"g":"c","s":"ADNI"},{"x":1.28,"y":0.92,"g":"a","s":"NYU"},{"x":-1.62,"y":0.62,"g":"a","s":"ADNI"},{"x":1.88,"y":-0.48,"g":"b","s":"NYU"},{"x":-0.02,"y":-0.42,"g":"a","s":"NYU"},{"x":0.38,"y":0.92,"g":"a","s":"ADNI"}],
"allT":[{"x":-2.3,"y":2.85,"g":"c","s":"NACC"},{"x":-1.2,"y":2.95,"g":"a","s":"NYU"},{"x":-1.1,"y":2.7,"g":"b","s":"NYU"},{"x":-1.2,"y":2.45,"g":"c","s":"ADNI"},{"x":1.0,"y":2.8,"g":"a","s":"NACC"},{"x":1.7,"y":2.25,"g":"a","s":"NACC"},{"x":0.2,"y":2.4,"g":"a","s":"ADNI"},{"x":-0.9,"y":2.1,"g":"a","s":"ADNI"},{"x":-1.5,"y":2.05,"g":"a","s":"ADNI"},{"x":-1.8,"y":2.0,"g":"a","s":"NACC"},{"x":-0.5,"y":1.95,"g":"c","s":"ADNI"},{"x":2.5,"y":1.85,"g":"b","s":"NYU"},{"x":2.2,"y":1.6,"g":"b","s":"NYU"},{"x":1.5,"y":1.7,"g":"a","s":"ADNI"},{"x":0.6,"y":1.85,"g":"c","s":"NYU"},{"x":0.0,"y":-2.9,"g":"a","s":"NACC"},{"x":-0.3,"y":-2.65,"g":"c","s":"NYU"},{"x":-0.6,"y":-2.6,"g":"b","s":"NYU"},{"x":-1.0,"y":-2.5,"g":"a","s":"NACC"},{"x":-1.3,"y":-2.3,"g":"b","s":"NYU"},{"x":-1.6,"y":-1.9,"g":"a","s":"ADNI"},{"x":-2.0,"y":-2.1,"g":"c","s":"ADNI"},{"x":-1.8,"y":-1.4,"g":"a","s":"NACC"},{"x":-1.2,"y":-1.2,"g":"c","s":"NYU"},{"x":0.4,"y":-2.2,"g":"a","s":"ADNI"},{"x":0.8,"y":-2.1,"g":"a","s":"NACC"},{"x":1.0,"y":-1.8,"g":"a","s":"NYU"},{"x":1.5,"y":-1.4,"g":"b","s":"NYU"},{"x":1.7,"y":-0.6,"g":"b","s":"NYU"},{"x":2.0,"y":-0.7,"g":"b","s":"NYU"},{"x":2.2,"y":-0.1,"g":"b","s":"NYU"},{"x":1.9,"y":0.3,"g":"a","s":"ADNI"},{"x":-2.5,"y":0.6,"g":"a","s":"NYU"},{"x":-2.3,"y":1.5,"g":"c","s":"NYU"},{"x":-2.1,"y":0.9,"g":"a","s":"ADNI"},{"x":-2.0,"y":0.2,"g":"c","s":"NYU"},{"x":-2.2,"y":-0.4,"g":"a","s":"ADNI"},{"x":-2.4,"y":-1.2,"g":"a","s":"NYU"},{"x":-1.9,"y":-0.9,"g":"c","s":"ADNI"},{"x":-1.7,"y":0.5,"g":"a","s":"NACC"},{"x":-1.6,"y":1.4,"g":"c","s":"ADNI"},{"x":-1.4,"y":1.0,"g":"a","s":"NYU"},{"x":-1.3,"y":0.2,"g":"a","s":"ADNI"},{"x":-1.2,"y":-0.5,"g":"a","s":"NYU"},{"x":-1.1,"y":1.7,"g":"c","s":"ADNI"},{"x":-1.0,"y":0.6,"g":"a","s":"ADNI"},{"x":-0.9,"y":-0.1,"g":"b","s":"NYU"},{"x":-0.9,"y":-0.8,"g":"a","s":"ADNI"},{"x":-0.8,"y":1.2,"g":"a","s":"NYU"},{"x":-0.7,"y":0.3,"g":"c","s":"ADNI"},{"x":-0.6,"y":-0.4,"g":"a","s":"ADNI"},{"x":-0.6,"y":0.8,"g":"a","s":"NACC"},{"x":-0.5,"y":-1.1,"g":"b","s":"NYU"},{"x":-0.4,"y":0.1,"g":"a","s":"NYU"},{"x":-0.4,"y":1.4,"g":"a","s":"ADNI"},{"x":-0.3,"y":-0.6,"g":"a","s":"ADNI"},{"x":-0.2,"y":0.5,"g":"c","s":"ADNI"},{"x":-0.2,"y":-0.2,"g":"a","s":"NYU"},{"x":-0.1,"y":1.0,"g":"a","s":"ADNI"},{"x":-0.1,"y":-1.4,"g":"a","s":"ADNI"},{"x":0.0,"y":0.2,"g":"a","s":"NACC"},{"x":0.0,"y":-0.7,"g":"c","s":"ADNI"},{"x":0.1,"y":0.7,"g":"a","s":"NYU"},{"x":0.1,"y":-0.3,"g":"a","s":"ADNI"},{"x":0.2,"y":1.2,"g":"b","s":"NYU"},{"x":0.2,"y":-1.0,"g":"a","s":"NYU"},{"x":0.3,"y":0.3,"g":"a","s":"ADNI"},{"x":0.3,"y":-0.5,"g":"c","s":"ADNI"},{"x":0.4,"y":0.9,"g":"a","s":"NYU"},{"x":0.4,"y":-0.1,"g":"a","s":"ADNI"},{"x":0.5,"y":-0.8,"g":"a","s":"NACC"},{"x":0.5,"y":0.5,"g":"c","s":"ADNI"},{"x":0.6,"y":0.0,"g":"a","s":"NYU"},{"x":0.6,"y":1.3,"g":"a","s":"ADNI"},{"x":0.7,"y":-0.4,"g":"b","s":"NYU"},{"x":0.7,"y":0.6,"g":"a","s":"ADNI"},{"x":0.8,"y":0.2,"g":"a","s":"NACC"},{"x":0.8,"y":-1.2,"g":"a","s":"ADNI"},{"x":0.9,"y":1.0,"g":"c","s":"NYU"},{"x":0.9,"y":-0.2,"g":"a","s":"ADNI"},{"x":1.0,"y":0.4,"g":"a","s":"NYU"},{"x":1.0,"y":-0.7,"g":"c","s":"ADNI"},{"x":1.1,"y":0.8,"g":"a","s":"ADNI"},{"x":1.1,"y":0.0,"g":"b","s":"NYU"},{"x":1.2,"y":1.3,"g":"a","s":"NACC"},{"x":1.2,"y":-0.4,"g":"a","s":"ADNI"},{"x":1.3,"y":0.5,"g":"a","s":"NYU"},{"x":1.4,"y":-0.9,"g":"a","s":"ADNI"},{"x":1.4,"y":0.9,"g":"b","s":"NYU"},{"x":1.5,"y":0.2,"g":"a","s":"ADNI"},{"x":1.6,"y":1.0,"g":"b","s":"NYU"},{"x":1.6,"y":-0.2,"g":"a","s":"NYU"},{"x":1.8,"y":0.7,"g":"b","s":"NYU"},{"x":-1.5,"y":-0.9,"g":"b","s":"NYU"},{"x":-1.4,"y":-1.6,"g":"a","s":"ADNI"},{"x":-1.1,"y":-1.8,"g":"c","s":"NYU"},{"x":-0.8,"y":-1.5,"g":"a","s":"NACC"},{"x":-0.3,"y":-1.8,"g":"b","s":"NYU"},{"x":0.1,"y":-1.6,"g":"a","s":"ADNI"},{"x":0.6,"y":-1.5,"g":"c","s":"ADNI"},{"x":1.2,"y":-1.1,"g":"a","s":"NYU"},{"x":-2.6,"y":0.0,"g":"a","s":"NYU"},{"x":-1.9,"y":1.7,"g":"a","s":"NYU"},{"x":2.4,"y":0.8,"g":"b","s":"NYU"},{"x":2.0,"y":1.1,"g":"a","s":"NYU"},{"x":-0.2,"y":2.1,"g":"c","s":"ADNI"},{"x":0.9,"y":2.0,"g":"a","s":"ADNI"},{"x":-1.3,"y":2.2,"g":"b","s":"NYU"},{"x":-0.5,"y":-2.2,"g":"a","s":"NACC"},{"x":-1.6,"y":-2.4,"g":"a","s":"NYU"},{"x":0.3,"y":1.7,"g":"a","s":"NYU"},{"x":-0.7,"y":1.6,"g":"a","s":"ADNI"},{"x":1.9,"y":-1.1,"g":"a","s":"ADNI"},{"x":-2.1,"y":-1.6,"g":"c","s":"NYU"},{"x":-1.0,"y":1.1,"g":"c","s":"NYU"},{"x":0.4,"y":-1.3,"g":"a","s":"NYU"},{"x":1.3,"y":-1.6,"g":"b","s":"NYU"},{"x":-0.1,"y":0.6,"g":"a","s":"ADNI"},{"x":-0.4,"y":-0.9,"g":"a","s":"ADNI"},{"x":0.7,"y":0.9,"g":"c","s":"ADNI"},{"x":1.7,"y":1.4,"g":"a","s":"NACC"},{"x":-2.0,"y":-0.8,"g":"a","s":"NACC"},{"x":2.3,"y":-0.5,"g":"b","s":"NYU"},{"x":1.0,"y":-2.6,"g":"a","s":"NACC"},
{"x":-1.25,"y":0.35,"g":"a","s":"NYU"},{"x":-1.15,"y":-0.25,"g":"a","s":"ADNI"},{"x":-1.05,"y":0.85,"g":"c","s":"ADNI"},{"x":-0.95,"y":0.15,"g":"a","s":"NYU"},{"x":-0.85,"y":-0.45,"g":"a","s":"ADNI"},{"x":-0.75,"y":0.55,"g":"a","s":"ADNI"},{"x":-0.65,"y":-0.15,"g":"a","s":"NYU"},{"x":-0.55,"y":0.25,"g":"c","s":"ADNI"},{"x":-0.45,"y":-0.65,"g":"a","s":"NYU"},{"x":-0.35,"y":0.75,"g":"a","s":"ADNI"},{"x":-0.25,"y":-0.35,"g":"a","s":"NACC"},{"x":-0.15,"y":0.15,"g":"c","s":"ADNI"},{"x":-0.05,"y":-0.5,"g":"a","s":"NYU"},{"x":0.05,"y":0.45,"g":"a","s":"ADNI"},{"x":0.15,"y":-0.15,"g":"a","s":"ADNI"},{"x":0.25,"y":0.85,"g":"b","s":"NYU"},{"x":0.35,"y":-0.75,"g":"a","s":"ADNI"},{"x":0.45,"y":0.25,"g":"a","s":"NYU"},{"x":0.55,"y":-0.3,"g":"c","s":"ADNI"},{"x":0.65,"y":0.35,"g":"a","s":"NACC"},{"x":0.75,"y":-0.15,"g":"a","s":"NYU"},{"x":0.85,"y":0.65,"g":"a","s":"ADNI"},{"x":0.95,"y":-0.45,"g":"a","s":"ADNI"},{"x":1.05,"y":0.15,"g":"b","s":"NYU"},{"x":1.15,"y":0.55,"g":"a","s":"ADNI"},{"x":1.25,"y":-0.15,"g":"a","s":"NACC"},{"x":1.35,"y":0.25,"g":"a","s":"NYU"},{"x":1.45,"y":-0.45,"g":"c","s":"ADNI"},{"x":-0.6,"y":-0.8,"g":"a","s":"ADNI"},{"x":-0.2,"y":1.25,"g":"a","s":"NYU"},{"x":0.2,"y":0.05,"g":"a","s":"ADNI"},{"x":0.6,"y":0.75,"g":"c","s":"ADNI"},{"x":1.0,"y":1.15,"g":"a","s":"ADNI"},{"x":-1.0,"y":-0.3,"g":"a","s":"NACC"},{"x":-0.3,"y":0.4,"g":"a","s":"NYU"},{"x":0.4,"y":0.55,"g":"a","s":"NYU"},{"x":0.0,"y":-0.15,"g":"a","s":"ADNI"},{"x":-0.4,"y":-0.25,"g":"a","s":"ADNI"},{"x":0.8,"y":-0.6,"g":"a","s":"NYU"},{"x":1.3,"y":0.95,"g":"a","s":"ADNI"},{"x":-1.35,"y":0.65,"g":"c","s":"NYU"},{"x":-1.5,"y":0.15,"g":"a","s":"ADNI"},{"x":1.6,"y":0.45,"g":"b","s":"NYU"},{"x":1.8,"y":-0.25,"g":"a","s":"ADNI"},{"x":-0.8,"y":0.95,"g":"a","s":"NYU"},{"x":0.3,"y":-0.35,"g":"a","s":"NYU"},{"x":-0.1,"y":0.3,"g":"a","s":"ADNI"},{"x":0.5,"y":-1.05,"g":"a","s":"ADNI"},
{"x":-1.45,"y":0.25,"g":"a","s":"ADNI"},{"x":-1.38,"y":-0.42,"g":"a","s":"NYU"},{"x":-1.28,"y":1.12,"g":"a","s":"ADNI"},{"x":-1.18,"y":-0.88,"g":"c","s":"ADNI"},{"x":-1.08,"y":0.52,"g":"a","s":"NYU"},{"x":-0.98,"y":-0.62,"g":"a","s":"ADNI"},{"x":-0.88,"y":0.38,"g":"b","s":"NYU"},{"x":-0.78,"y":-0.22,"g":"a","s":"ADNI"},{"x":-0.68,"y":1.22,"g":"a","s":"NACC"},{"x":-0.58,"y":-0.92,"g":"a","s":"ADNI"},{"x":-0.48,"y":0.28,"g":"a","s":"NYU"},{"x":-0.38,"y":-0.62,"g":"c","s":"ADNI"},{"x":-0.28,"y":0.52,"g":"a","s":"ADNI"},{"x":-0.18,"y":-0.18,"g":"a","s":"NYU"},{"x":-0.08,"y":0.78,"g":"a","s":"ADNI"},{"x":0.02,"y":-0.72,"g":"a","s":"NACC"},{"x":0.12,"y":0.12,"g":"a","s":"NYU"},{"x":0.22,"y":-0.28,"g":"c","s":"ADNI"},{"x":0.32,"y":0.42,"g":"a","s":"ADNI"},{"x":0.42,"y":-0.48,"g":"a","s":"NYU"},{"x":0.52,"y":0.18,"g":"a","s":"ADNI"},{"x":0.62,"y":-0.78,"g":"b","s":"NYU"},{"x":0.72,"y":0.58,"g":"a","s":"ADNI"},{"x":0.82,"y":-0.22,"g":"a","s":"NYU"},{"x":0.92,"y":0.28,"g":"a","s":"NACC"},{"x":1.02,"y":-0.58,"g":"a","s":"ADNI"},{"x":1.12,"y":0.62,"g":"a","s":"NYU"},{"x":1.22,"y":-0.38,"g":"a","s":"ADNI"},{"x":1.32,"y":0.12,"g":"b","s":"NYU"},{"x":1.42,"y":-0.72,"g":"a","s":"NYU"},{"x":1.52,"y":0.52,"g":"a","s":"ADNI"},{"x":1.62,"y":-0.02,"g":"a","s":"NYU"},{"x":1.72,"y":-0.82,"g":"b","s":"NYU"},{"x":-0.92,"y":-1.12,"g":"a","s":"ADNI"},{"x":-0.52,"y":1.02,"g":"a","s":"NYU"},{"x":-0.12,"y":-1.22,"g":"a","s":"ADNI"},{"x":0.28,"y":1.32,"g":"a","s":"NYU"},{"x":0.68,"y":-1.28,"g":"a","s":"ADNI"},{"x":1.08,"y":1.22,"g":"a","s":"NYU"},{"x":-1.22,"y":0.12,"g":"a","s":"NYU"},{"x":-0.72,"y":-0.52,"g":"c","s":"ADNI"},{"x":-0.32,"y":0.02,"g":"a","s":"ADNI"},{"x":0.08,"y":-0.52,"g":"a","s":"NYU"},{"x":0.48,"y":-0.02,"g":"a","s":"ADNI"},{"x":0.88,"y":-0.42,"g":"c","s":"ADNI"},{"x":1.28,"y":-0.92,"g":"a","s":"NYU"},{"x":-1.62,"y":-0.62,"g":"a","s":"ADNI"},{"x":1.88,"y":0.48,"g":"b","s":"NYU"},{"x":-0.02,"y":0.42,"g":"a","s":"NYU"},{"x":0.38,"y":-0.92,"g":"a","s":"ADNI"}],
"f1":[{"x":35,"y":3.97},{"x":200,"y":3.76},{"x":350,"y":3.65},{"x":520,"y":3.6},{"x":650,"y":3.63},{"x":800,"y":3.72},{"x":950,"y":3.89},{"x":1100,"y":4.13},{"x":1290,"y":4.53}],
"f2":[{"x":40,"y":4.62},{"x":80,"y":4.15},{"x":120,"y":3.78},{"x":160,"y":3.51},{"x":200,"y":3.33},{"x":249,"y":3.26},{"x":300,"y":3.34},{"x":350,"y":3.58}],
"f3":[{"x":112,"y":4.11},{"x":250,"y":3.86},{"x":400,"y":3.68},{"x":594,"y":3.6},{"x":800,"y":3.69},{"x":950,"y":3.88},{"x":1100,"y":4.16},{"x":1250,"y":4.55},{"x":1365,"y":4.9}],
"f4":[{"x":-3.2,"y":1.94},{"x":-2.5,"y":1.08},{"x":-2,"y":0.6},{"x":-1.5,"y":0.23},{"x":-1,"y":-0.03},{"x":-0.5,"y":-0.19},{"x":0,"y":-0.24},{"x":0.5,"y":-0.18},{"x":1,"y":-0.01},{"x":1.5,"y":0.27},{"x":2,"y":0.65},{"x":2.5,"y":1.15},{"x":3.15,"y":1.94}],
"f5":[{"x":35,"y":5.85},{"x":200,"y":5.62},{"x":350,"y":5.49},{"x":516,"y":5.44},{"x":650,"y":5.47},{"x":800,"y":5.58},{"x":950,"y":5.77},{"x":1100,"y":6.04},{"x":1290,"y":6.5}],
"f6":[{"x":40,"y":5.2},{"x":80,"y":4.7},{"x":120,"y":4.33},{"x":160,"y":4.09},{"x":214,"y":3.97},{"x":260,"y":4.06},{"x":300,"y":4.27},{"x":350,"y":4.72}],
"f7":[{"x":112,"y":6.2},{"x":250,"y":5.84},{"x":400,"y":5.59},{"x":596,"y":5.47},{"x":800,"y":5.6},{"x":950,"y":5.86},{"x":1100,"y":6.26},{"x":1200,"y":6.61},{"x":1300,"y":7.01},{"x":1365,"y":7.31}],
"f8":[{"x":-3.2,"y":1.61},{"x":-2.5,"y":0.85},{"x":-2,"y":0.42},{"x":-1.5,"y":0.1},{"x":-1,"y":-0.11},{"x":-0.5,"y":-0.22},{"x":-0.21,"y":-0.24},{"x":0.5,"y":-0.14},{"x":1,"y":0.06},{"x":1.5,"y":0.37},{"x":2,"y":0.77},{"x":2.5,"y":1.28},{"x":3.15,"y":2.08}]
},
"columns":4,
"spacing":{"row":14,"column":0},
"bounds":"full",
"align":"each",
"concat":[
{"width":133,"height":127,"resolve":{"axis":{"x":"independent","y":"independent"}},
"layer":[
{"data":{"name":"nyuP"},"mark":{"type":"point","shape":"circle","filled":true,"size":19,"opacity":0.7},
"encoding":{"x":{"field":"x","type":"quantitative","scale":{"domain":[35,1290],"nice":false,"zero":false},"axis":{"orient":"bottom","values":[200,500,800,1100],"format":"d","title":"Aβ₄₂","titleFontWeight":"bold","titleAlign":"right","titleX":56.5,"titleY":24}},
"y":{"field":"y","type":"quantitative","scale":{"domain":[2.48,5.2],"nice":false,"zero":false},"axis":{"orient":"left","values":[2.6,3,3.4,3.8,4.2,4.6,5],"format":".1f","title":"Ln","titleFontWeight":"bold","titleAlign":"right","titleX":-2.6,"titleY":-7}},
"color":{"field":"g","type":"nominal","scale":{"domain":["a","b","c"],"range":["#4a4a4a","#3a8bc6","#f07b52"]},"legend":null}}},
{"data":{"name":"f1"},"mark":{"type":"line","color":"#dc1f26","strokeWidth":2.5,"interpolate":"monotone","clip":true},
"encoding":{"x":{"field":"x","type":"quantitative","scale":{"domain":[35,1290],"nice":false,"zero":false},"axis":{"orient":"bottom","labels":false,"ticks":false,"title":"(pg/mL)","titleAlign":"left","titleX":61.7,"titleY":24}},
"y":{"field":"y","type":"quantitative","scale":{"domain":[2.48,5.2],"nice":false,"zero":false},"axis":{"orient":"left","offset":22,"values":[2.6,3,3.4,3.8,4.2,4.6,5],"labelExpr":"format(exp(datum.value),'.0f')","labelFontStyle":"italic","ticks":false,"labelPadding":0,"title":"Raw","titleFontWeight":"bold","titleFontStyle":"italic","titleFontSize":10,"titleAlign":"right","titleX":-1.3,"titleY":-7}}}},
{"data":{"values":[{}]},"mark":{"type":"rule","color":"#1a1a1a","strokeWidth":0.8,"strokeDash":[5,2,1,2]},
"encoding":{"x":{"datum":478,"type":"quantitative","scale":{"domain":[35,1290],"nice":false,"zero":false},"axis":{"orient":"top","labels":false,"ticks":false,"title":"NYU","titleFontWeight":"bold","titleAlign":"right","titleX":57.4,"titleY":-34}},
"y":{"datum":2.48,"type":"quantitative","scale":{"domain":[2.48,5.2],"nice":false,"zero":false},"axis":{"orient":"left","labels":false,"ticks":false,"title":"P-tau181","titleFontWeight":"bold","titleFontSize":10,"titleAlign":"right","titleX":-0.5,"titleY":-33}},
"y2":{"datum":5.2}}},
{"data":{"values":[{}]},"mark":{"type":"rule","color":"#1a1a1a","strokeWidth":0.8,"strokeDash":[5,2,1,2]},
"encoding":{"x":{"datum":35,"type":"quantitative","scale":{"domain":[35,1290],"nice":false,"zero":false},"axis":{"orient":"top","labels":false,"ticks":false,"title":"(n=331)","titleAlign":"left","titleX":60.5,"titleY":-34}},
"x2":{"datum":1290},
"y":{"datum":3.87,"type":"quantitative","scale":{"domain":[2.48,5.2],"nice":false,"zero":false},"axis":{"orient":"left","labels":false,"ticks":false,"title":"(pg/mL)","titleFontStyle":"italic","titleFontSize":10.5,"titleAlign":"right","titleX":-1.6,"titleY":-20}}}},
{"data":{"values":[]},"mark":"point",
"encoding":{"x":{"field":"x","type":"quantitative","scale":{"domain":[35,1290],"nice":false,"zero":false},"axis":{"orient":"top","labels":false,"ticks":false,"title":["Quadratic Fit","F=12.2, p<.01"],"titleAlign":"center","titleX":66.5,"titleY":-18.5,"titleLineHeight":11.6}},
"y":{"field":"y","type":"quantitative","scale":{"domain":[2.48,5.2],"nice":false,"zero":false},"axis":{"orient":"left","labels":false,"ticks":false,"title":".","titleOpacity":0,"titleAlign":"left","titleBaseline":"top","titleX":-43,"titleY":-43}}}}
]},
{"width":133,"height":127,"resolve":{"axis":{"x":"independent","y":"independent"}},
"layer":[
{"data":{"name":"adniP"},"mark":{"type":"point","shape":"triangle-up","filled":true,"size":22,"opacity":0.7},
"encoding":{"x":{"field":"x","type":"quantitative","scale":{"domain":[40,350],"nice":false,"zero":false},"axis":{"orient":"bottom","values":[50,150,250,350],"format":"d","labelFlush":true,"title":"Aβ₄₂","titleFontWeight":"bold","titleAlign":"right","titleX":56.5,"titleY":24}},
"y":{"field":"y","type":"quantitative","scale":{"domain":[1.8,5.38],"nice":false,"zero":false},"axis":{"orient":"left","values":[2,2.4,2.8,3.2,3.6,4,4.4,4.8,5.2],"format":".1f","title":"Ln","titleFontWeight":"bold","titleAlign":"right","titleX":-4,"titleY":-7}},
"color":{"field":"g","type":"nominal","scale":{"domain":["a","b","c"],"range":["#4a4a4a","#3a8bc6","#f07b52"]},"legend":null}}},
{"data":{"name":"f2"},"mark":{"type":"line","color":"#dc1f26","strokeWidth":2.5,"interpolate":"monotone","clip":true},
"encoding":{"x":{"field":"x","type":"quantitative","scale":{"domain":[40,350],"nice":false,"zero":false},"axis":{"orient":"bottom","labels":false,"ticks":false,"title":"(pg/mL)","titleAlign":"left","titleX":61.7,"titleY":24}},
"y":{"field":"y","type":"quantitative","scale":{"domain":[1.8,5.38],"nice":false,"zero":false},"axis":{"orient":"left","offset":22,"values":[2,2.4,2.8,3.2,3.6,4,4.4,4.8,5.2],"labelExpr":"format(exp(datum.value),'.0f')","labelFontStyle":"italic","ticks":false,"labelPadding":0,"title":"Raw","titleFontWeight":"bold","titleFontStyle":"italic","titleFontSize":10,"titleAlign":"right","titleX":-4.6,"titleY":-7}}}},
{"data":{"values":[{}]},"mark":{"type":"rule","color":"#1a1a1a","strokeWidth":0.8,"strokeDash":[5,2,1,2]},
"encoding":{"x":{"datum":186,"type":"quantitative","scale":{"domain":[40,350],"nice":false,"zero":false},"axis":{"orient":"top","labels":false,"ticks":false,"title":"ADNI","titleFontWeight":"bold","titleAlign":"right","titleX":59.3,"titleY":-34}},
"y":{"datum":1.8,"type":"quantitative","scale":{"domain":[1.8,5.38],"nice":false,"zero":false},"axis":{"orient":"left","labels":false,"ticks":false,"title":"P-tau181","titleFontWeight":"bold","titleFontSize":10,"titleAlign":"right","titleX":-5,"titleY":-33}},
"y2":{"datum":5.38}}},
{"data":{"values":[{}]},"mark":{"type":"rule","color":"#1a1a1a","strokeWidth":0.8,"strokeDash":[5,2,1,2]},
"encoding":{"x":{"datum":40,"type":"quantitative","scale":{"domain":[40,350],"nice":false,"zero":false},"axis":{"orient":"top","labels":false,"ticks":false,"title":"(n=335)","titleAlign":"left","titleX":62.4,"titleY":-34}},
"x2":{"datum":350},
"y":{"datum":3.12,"type":"quantitative","scale":{"domain":[1.8,5.38],"nice":false,"zero":false},"axis":{"orient":"left","labels":false,"ticks":false,"title":"(pg/mL)","titleFontStyle":"italic","titleFontSize":10.5,"titleAlign":"right","titleX":-5,"titleY":-20}}}},
{"data":{"values":[]},"mark":"point",
"encoding":{"x":{"field":"x","type":"quantitative","scale":{"domain":[40,350],"nice":false,"zero":false},"axis":{"orient":"top","labels":false,"ticks":false,"title":["Quadratic Fit","F=8.2, p<.01"],"titleAlign":"center","titleX":66.5,"titleY":-18.5,"titleLineHeight":11.6}},
"y":{"field":"y","type":"quantitative","scale":{"domain":[1.8,5.38],"nice":false,"zero":false},"axis":{"orient":"left","labels":false,"ticks":false,"title":".","titleOpacity":0,"titleAlign":"left","titleBaseline":"top","titleX":-50,"titleY":-43}}}}
]},
{"width":133,"height":127,"resolve":{"axis":{"x":"independent","y":"independent"}},
"layer":[
{"data":{"name":"naccP"},"mark":{"type":"point","shape":"square","filled":true,"size":22,"opacity":0.7},
"encoding":{"x":{"field":"x","type":"quantitative","scale":{"domain":[112,1365],"nice":false,"zero":false},"axis":{"orient":"bottom","values":[300,600,900,1200],"format":"d","title":"Aβ₄₂","titleFontWeight":"bold","titleAlign":"right","titleX":56.5,"titleY":24}},
"y":{"field":"y","type":"quantitative","scale":{"domain":[2.62,5.06],"nice":false,"zero":false},"axis":{"orient":"left","values":[2.8,3.2,3.6,4,4.4,4.8],"format":".1f","title":"Ln","titleFontWeight":"bold","titleAlign":"right","titleX":-4.3,"titleY":-7}},
"color":{"field":"g","type":"nominal","scale":{"domain":["a","b","c"],"range":["#4a4a4a","#3a8bc6","#f07b52"]},"legend":null}}},
{"data":{"name":"f3"},"mark":{"type":"line","color":"#dc1f26","strokeWidth":2.5,"interpolate":"monotone","clip":true},
"encoding":{"x":{"field":"x","type":"quantitative","scale":{"domain":[112,1365],"nice":false,"zero":false},"axis":{"orient":"bottom","labels":false,"ticks":false,"title":"(pg/mL)","titleAlign":"left","titleX":61.7,"titleY":24}},
"y":{"field":"y","type":"quantitative","scale":{"domain":[2.62,5.06],"nice":false,"zero":false},"axis":{"orient":"left","offset":22,"values":[2.8,3.2,3.6,4,4.4,4.8],"labelExpr":"format(exp(datum.value),'.0f')","labelFontStyle":"italic","ticks":false,"labelPadding":0,"title":"Raw","titleFontWeight":"bold","titleFontStyle":"italic","titleFontSize":10,"titleAlign":"right","titleX":-0.7,"titleY":-7}}}},
{"data":{"values":[{}]},"mark":{"type":"rule","color":"#1a1a1a","strokeWidth":0.8,"strokeDash":[5,2,1,2]},
"encoding":{"x":{"datum":473,"type":"quantitative","scale":{"domain":[112,1365],"nice":false,"zero":false},"axis":{"orient":"top","labels":false,"ticks":false,"title":"NACC","titleFontWeight":"bold","titleAlign":"right","titleX":61.8,"titleY":-34}},
"y":{"datum":2.62,"type":"quantitative","scale":{"domain":[2.62,5.06],"nice":false,"zero":false},"axis":{"orient":"left","labels":false,"ticks":false,"title":"P-tau181","titleFontWeight":"bold","titleFontSize":10,"titleAlign":"right","titleX":-11,"titleY":-33}},
"y2":{"datum":5.06}}},
{"data":{"values":[{}]},"mark":{"type":"rule","color":"#1a1a1a","strokeWidth":0.8,"strokeDash":[5,2,1,2]},
"encoding":{"x":{"datum":112,"type":"quantitative","scale":{"domain":[112,1365],"nice":false,"zero":false},"axis":{"orient":"top","labels":false,"ticks":false,"title":"(n=100)","titleAlign":"left","titleX":64.9,"titleY":-34}},
"x2":{"datum":1365},
"y":{"datum":3.98,"type":"quantitative","scale":{"domain":[2.62,5.06],"nice":false,"zero":false},"axis":{"orient":"left","labels":false,"ticks":false,"title":"(pg/mL)","titleFontStyle":"italic","titleFontSize":10.5,"titleAlign":"right","titleX":-4.3,"titleY":-20}}}},
{"data":{"values":[]},"mark":"point",
"encoding":{"x":{"field":"x","type":"quantitative","scale":{"domain":[112,1365],"nice":false,"zero":false},"axis":{"orient":"top","labels":false,"ticks":false,"title":["Quadratic Fit","F=11.0, p<.01"],"titleAlign":"center","titleX":66.5,"titleY":-18.5,"titleLineHeight":11.6}},
"y":{"field":"y","type":"quantitative","scale":{"domain":[2.62,5.06],"nice":false,"zero":false},"axis":{"orient":"left","labels":false,"ticks":false,"title":".","titleOpacity":0,"titleAlign":"left","titleBaseline":"top","titleX":-53,"titleY":-43}}}}
]},
{"width":133,"height":127,"resolve":{"axis":{"x":"independent","y":"independent"}},
"layer":[
{"data":{"name":"allP"},"mark":{"type":"point","filled":true,"size":21,"opacity":0.7},
"encoding":{"x":{"field":"x","type":"quantitative","scale":{"domain":[-3.2,3.15],"nice":false,"zero":false},"axis":{"orient":"bottom","values":[-3,-2,-1,0,1,2,3],"labelExpr":"''+datum.value","title":"Aβ₄₂ z-score","titleFontWeight":"bold","titleAlign":"center","titleX":66.5,"titleY":24}},
"y":{"field":"y","type":"quantitative","scale":{"domain":[-3.2,4.06],"nice":false,"zero":false},"axis":{"orient":"left","values":[-3,-2,-1,0,1,2,3,4],"labelExpr":"''+datum.value","title":"z","titleFontWeight":"bold","titleAlign":"center","titleX":-10,"titleY":-11}},
"color":{"field":"g","type":"nominal","scale":{"domain":["a","b","c"],"range":["#4a4a4a","#3a8bc6","#f07b52"]},"legend":null},
"shape":{"field":"s","type":"nominal","scale":{"domain":["NYU","ADNI","NACC"],"range":["circle","triangle-up","square"]},"legend":null}}},
{"data":{"name":"f4"},"mark":{"type":"line","color":"#dc1f26","strokeWidth":2.5,"interpolate":"monotone","clip":true},
"encoding":{"x":{"field":"x","type":"quantitative","scale":{"domain":[-3.2,3.15],"nice":false,"zero":false},"axis":{"orient":"top","labels":false,"ticks":false,"title":"NYU, ADNI, NACC","titleFontWeight":"bold","titleAlign":"right","titleX":91.5,"titleY":-35}},
"y":{"field":"y","type":"quantitative","scale":{"domain":[-3.2,4.06],"nice":false,"zero":false},"axis":{"orient":"left","labels":false,"ticks":false,"title":"P-tau181","titleFontWeight":"bold","titleFontSize":10,"titleAlign":"center","titleX":-8.3,"titleY":-24}}}},
{"data":{"values":[]},"mark":"point",
"encoding":{"x":{"field":"x","type":"quantitative","scale":{"domain":[-3.2,3.15],"nice":false,"zero":false},"axis":{"orient":"top","labels":false,"ticks":false,"title":"(n=766)","titleAlign":"left","titleX":94.5,"titleY":-35}},
"y":{"field":"y","type":"quantitative","scale":{"domain":[-3.2,4.06],"nice":false,"zero":false},"axis":{"orient":"left","labels":false,"ticks":false,"title":".","titleOpacity":0,"titleAlign":"left","titleBaseline":"top","titleX":-30,"titleY":-43}}}},
{"data":{"values":[]},"mark":"point",
"encoding":{"x":{"field":"x","type":"quantitative","scale":{"domain":[-3.2,3.15],"nice":false,"zero":false},"axis":{"orient":"top","labels":false,"ticks":false,"title":["Quadratic Fit","F=34.3, p<.01"],"titleAlign":"center","titleX":66.5,"titleY":-18.5,"titleLineHeight":11.6}}}}
]},
{"width":133,"height":127,"resolve":{"axis":{"x":"independent","y":"independent"}},
"layer":[
{"data":{"name":"nyuT"},"mark":{"type":"point","shape":"circle","filled":true,"size":19,"opacity":0.7},
"encoding":{"x":{"field":"x","type":"quantitative","scale":{"domain":[35,1290],"nice":false,"zero":false},"axis":{"orient":"bottom","values":[200,500,800,1100],"format":"d","title":"Aβ₄₂","titleFontWeight":"bold","titleAlign":"right","titleX":56.5,"titleY":24}},
"y":{"field":"y","type":"quantitative","scale":{"domain":[4.03,7.15],"nice":false,"zero":false},"axis":{"orient":"left","values":[4.4,4.8,5.2,5.6,6,6.4,6.8],"format":".1f","title":"Ln","titleFontWeight":"bold","titleAlign":"right","titleX":-2.6,"titleY":-6}},
"color":{"field":"g","type":"nominal","scale":{"domain":["a","b","c"],"range":["#4a4a4a","#3a8bc6","#f07b52"]},"legend":null}}},
{"data":{"name":"f5"},"mark":{"type":"line","color":"#dc1f26","strokeWidth":2.5,"interpolate":"monotone","clip":true},
"encoding":{"x":{"field":"x","type":"quantitative","scale":{"domain":[35,1290],"nice":false,"zero":false},"axis":{"orient":"bottom","labels":false,"ticks":false,"title":"(pg/mL)","titleAlign":"left","titleX":61.7,"titleY":24}},
"y":{"field":"y","type":"quantitative","scale":{"domain":[4.03,7.15],"nice":false,"zero":false},"axis":{"orient":"left","offset":24,"values":[4.4,4.8,5.2,5.6,6,6.4,6.8],"labelExpr":"format(exp(datum.value),'.0f')","labelFontStyle":"italic","ticks":false,"labelPadding":0,"title":"Raw","titleFontWeight":"bold","titleFontStyle":"italic","titleFontSize":10,"titleAlign":"right","titleX":1.4,"titleY":-6}}}},
{"data":{"values":[{}]},"mark":{"type":"rule","color":"#1a1a1a","strokeWidth":0.8,"strokeDash":[5,2,1,2]},
"encoding":{"x":{"datum":488,"type":"quantitative","scale":{"domain":[35,1290],"nice":false,"zero":false},"axis":{"orient":"top","labels":false,"ticks":false,"title":"NYU","titleFontWeight":"bold","titleAlign":"right","titleX":57.4,"titleY":-34}},
"y":{"datum":4.03,"type":"quantitative","scale":{"domain":[4.03,7.15],"nice":false,"zero":false},"axis":{"orient":"left","labels":false,"ticks":false,"title":"T-tau","titleFontWeight":"bold","titleFontSize":10.5,"titleAlign":"center","titleX":-20.8,"titleY":-33}},
"y2":{"datum":7.15}}},
{"data":{"values":[{}]},"mark":{"type":"rule","color":"#1a1a1a","strokeWidth":0.8,"strokeDash":[5,2,1,2]},
"encoding":{"x":{"datum":35,"type":"quantitative","scale":{"domain":[35,1290],"nice":false,"zero":false},"axis":{"orient":"top","labels":false,"ticks":false,"title":"(n=331)","titleAlign":"left","titleX":60.5,"titleY":-34}},
"x2":{"datum":1290},
"y":{"datum":5.75,"type":"quantitative","scale":{"domain":[4.03,7.15],"nice":false,"zero":false},"axis":{"orient":"left","labels":false,"ticks":false,"title":"(pg/mL)","titleFontStyle":"italic","titleFontSize":10.5,"titleAlign":"right","titleX":-1.6,"titleY":-19.5}}}},
{"data":{"values":[]},"mark":"point",
"encoding":{"x":{"field":"x","type":"quantitative","scale":{"domain":[35,1290],"nice":false,"zero":false},"axis":{"orient":"top","labels":false,"ticks":false,"title":["Quadratic Fit","F=7.3, p<.01"],"titleAlign":"center","titleX":66.5,"titleY":-18.5,"titleLineHeight":11.6}},
"y":{"field":"y","type":"quantitative","scale":{"domain":[4.03,7.15],"nice":false,"zero":false},"axis":{"orient":"left","labels":false,"ticks":false,"title":".","titleOpacity":0,"titleAlign":"left","titleBaseline":"top","titleX":-43,"titleY":-43}}}}
]},
{"width":133,"height":127,"resolve":{"axis":{"x":"independent","y":"independent"}},
"layer":[
{"data":{"name":"adniT"},"mark":{"type":"point","shape":"triangle-up","filled":true,"size":22,"opacity":0.7},
"encoding":{"x":{"field":"x","type":"quantitative","scale":{"domain":[40,350],"nice":false,"zero":false},"axis":{"orient":"bottom","values":[50,150,250,350],"format":"d","labelFlush":true,"title":"Aβ₄₂","titleFontWeight":"bold","titleAlign":"right","titleX":56.5,"titleY":24}},
"y":{"field":"y","type":"quantitative","scale":{"domain":[2.69,5.57],"nice":false,"zero":false},"axis":{"orient":"left","values":[2.8,3.2,3.6,4,4.4,4.8,5.2],"format":".1f","title":"Ln","titleFontWeight":"bold","titleAlign":"right","titleX":-3.3,"titleY":-6}},
"color":{"field":"g","type":"nominal","scale":{"domain":["a","b","c"],"range":["#4a4a4a","#3a8bc6","#f07b52"]},"legend":null}}},
{"data":{"name":"f6"},"mark":{"type":"line","color":"#dc1f26","strokeWidth":2.5,"interpolate":"monotone","clip":true},
"encoding":{"x":{"field":"x","type":"quantitative","scale":{"domain":[40,350],"nice":false,"zero":false},"axis":{"orient":"bottom","labels":false,"ticks":false,"title":"(pg/mL)","titleAlign":"left","titleX":61.7,"titleY":24}},
"y":{"field":"y","type":"quantitative","scale":{"domain":[2.69,5.57],"nice":false,"zero":false},"axis":{"orient":"left","offset":22,"values":[2.8,3.2,3.6,4,4.4,4.8,5.2],"labelExpr":"format(exp(datum.value),'.0f')","labelFontStyle":"italic","ticks":false,"labelPadding":0,"title":"Raw","titleFontWeight":"bold","titleFontStyle":"italic","titleFontSize":10,"titleAlign":"right","titleX":-1.3,"titleY":-6}}}},
{"data":{"values":[{}]},"mark":{"type":"rule","color":"#1a1a1a","strokeWidth":0.8,"strokeDash":[5,2,1,2]},
"encoding":{"x":{"datum":186,"type":"quantitative","scale":{"domain":[40,350],"nice":false,"zero":false},"axis":{"orient":"top","labels":false,"ticks":false,"title":"ADNI","titleFontWeight":"bold","titleAlign":"right","titleX":59.3,"titleY":-34}},
"y":{"datum":2.69,"type":"quantitative","scale":{"domain":[2.69,5.57],"nice":false,"zero":false},"axis":{"orient":"left","labels":false,"ticks":false,"title":"T-tau","titleFontWeight":"bold","titleFontSize":10.5,"titleAlign":"center","titleX":-22.5,"titleY":-33}},
"y2":{"datum":5.57}}},
{"data":{"values":[{}]},"mark":{"type":"rule","color":"#1a1a1a","strokeWidth":0.8,"strokeDash":[5,2,1,2]},
"encoding":{"x":{"datum":40,"type":"quantitative","scale":{"domain":[40,350],"nice":false,"zero":false},"axis":{"orient":"top","labels":false,"ticks":false,"title":"(n=335)","titleAlign":"left","titleX":62.4,"titleY":-34}},
"x2":{"datum":350},
"y":{"datum":4.48,"type":"quantitative","scale":{"domain":[2.69,5.57],"nice":false,"zero":false},"axis":{"orient":"left","labels":false,"ticks":false,"title":"(pg/mL)","titleFontStyle":"italic","titleFontSize":10.5,"titleAlign":"right","titleX":-5,"titleY":-19.5}}}},
{"data":{"values":[]},"mark":"point",
"encoding":{"x":{"field":"x","type":"quantitative","scale":{"domain":[40,350],"nice":false,"zero":false},"axis":{"orient":"top","labels":false,"ticks":false,"title":["Quadratic Fit","F=14.0, p<.01"],"titleAlign":"center","titleX":66.5,"titleY":-18.5,"titleLineHeight":11.6}},
"y":{"field":"y","type":"quantitative","scale":{"domain":[2.69,5.57],"nice":false,"zero":false},"axis":{"orient":"left","labels":false,"ticks":false,"title":".","titleOpacity":0,"titleAlign":"left","titleBaseline":"top","titleX":-50,"titleY":-43}}}}
]},
{"width":133,"height":127,"resolve":{"axis":{"x":"independent","y":"independent"}},
"layer":[
{"data":{"name":"naccT"},"mark":{"type":"point","shape":"square","filled":true,"size":22,"opacity":0.7},
"encoding":{"x":{"field":"x","type":"quantitative","scale":{"domain":[112,1365],"nice":false,"zero":false},"axis":{"orient":"bottom","values":[300,600,900,1200],"format":"d","title":"Aβ₄₂","titleFontWeight":"bold","titleAlign":"right","titleX":56.5,"titleY":24}},
"y":{"field":"y","type":"quantitative","scale":{"domain":[4.1,7.24],"nice":false,"zero":false},"axis":{"orient":"left","values":[4.2,4.6,5,5.4,5.8,6.2,6.6,7],"format":".1f","title":"Ln","titleFontWeight":"bold","titleAlign":"right","titleX":-6,"titleY":-6}},
"color":{"field":"g","type":"nominal","scale":{"domain":["a","b","c"],"range":["#4a4a4a","#3a8bc6","#f07b52"]},"legend":null}}},
{"data":{"name":"f7"},"mark":{"type":"line","color":"#dc1f26","strokeWidth":2.5,"interpolate":"monotone","clip":true},
"encoding":{"x":{"field":"x","type":"quantitative","scale":{"domain":[112,1365],"nice":false,"zero":false},"axis":{"orient":"bottom","labels":false,"ticks":false,"title":"(pg/mL)","titleAlign":"left","titleX":61.7,"titleY":24}},
"y":{"field":"y","type":"quantitative","scale":{"domain":[4.1,7.24],"nice":false,"zero":false},"axis":{"orient":"left","offset":21,"values":[4.2,4.6,5,5.4,5.8,6.2,6.6,7],"labelExpr":"format(exp(datum.value),'.0f')","labelFontStyle":"italic","ticks":false,"labelPadding":0,"title":"Raw","titleFontWeight":"bold","titleFontStyle":"italic","titleFontSize":10,"titleAlign":"right","titleX":-1.7,"titleY":-6}}}},
{"data":{"values":[{}]},"mark":{"type":"rule","color":"#1a1a1a","strokeWidth":0.8,"strokeDash":[5,2,1,2]},
"encoding":{"x":{"datum":473,"type":"quantitative","scale":{"domain":[112,1365],"nice":false,"zero":false},"axis":{"orient":"top","labels":false,"ticks":false,"title":"NACC","titleFontWeight":"bold","titleAlign":"right","titleX":61.8,"titleY":-34}},
"y":{"datum":4.1,"type":"quantitative","scale":{"domain":[4.1,7.24],"nice":false,"zero":false},"axis":{"orient":"left","labels":false,"ticks":false,"title":"T-tau","titleFontWeight":"bold","titleFontSize":10.5,"titleAlign":"center","titleX":-26,"titleY":-32}},
"y2":{"datum":7.24}}},
{"data":{"values":[{}]},"mark":{"type":"rule","color":"#1a1a1a","strokeWidth":0.8,"strokeDash":[5,2,1,2]},
"encoding":{"x":{"datum":112,"type":"quantitative","scale":{"domain":[112,1365],"nice":false,"zero":false},"axis":{"orient":"top","labels":false,"ticks":false,"title":"(n=100)","titleAlign":"left","titleX":64.9,"titleY":-34}},
"x2":{"datum":1365},
"y":{"datum":5.74,"type":"quantitative","scale":{"domain":[4.1,7.24],"nice":false,"zero":false},"axis":{"orient":"left","labels":false,"ticks":false,"title":"(pg/mL)","titleFontStyle":"italic","titleFontSize":10.5,"titleAlign":"right","titleX":-6,"titleY":-19.5}}}},
{"data":{"values":[]},"mark":"point",
"encoding":{"x":{"field":"x","type":"quantitative","scale":{"domain":[112,1365],"nice":false,"zero":false},"axis":{"orient":"top","labels":false,"ticks":false,"title":["Quadratic Fit","F=9.1, p<.01"],"titleAlign":"center","titleX":66.5,"titleY":-18.5,"titleLineHeight":11.6}},
"y":{"field":"y","type":"quantitative","scale":{"domain":[4.1,7.24],"nice":false,"zero":false},"axis":{"orient":"left","labels":false,"ticks":false,"title":".","titleOpacity":0,"titleAlign":"left","titleBaseline":"top","titleX":-53,"titleY":-43}}}}
]},
{"width":133,"height":127,"resolve":{"axis":{"x":"independent","y":"independent"}},
"layer":[
{"data":{"name":"allT"},"mark":{"type":"point","filled":true,"size":21,"opacity":0.7},
"encoding":{"x":{"field":"x","type":"quantitative","scale":{"domain":[-3.2,3.15],"nice":false,"zero":false},"axis":{"orient":"bottom","values":[-3,-2,-1,0,1,2,3],"labelExpr":"''+datum.value","title":"Aβ₄₂ z-score","titleFontWeight":"bold","titleAlign":"center","titleX":66.5,"titleY":24}},
"y":{"field":"y","type":"quantitative","scale":{"domain":[-3.12,3.27],"nice":false,"zero":false},"axis":{"orient":"left","values":[-3,-2,-1,0,1,2,3],"labelExpr":"''+datum.value","title":"z","titleFontWeight":"bold","titleAlign":"center","titleX":-10,"titleY":-9}},
"color":{"field":"g","type":"nominal","scale":{"domain":["a","b","c"],"range":["#4a4a4a","#3a8bc6","#f07b52"]},"legend":null},
"shape":{"field":"s","type":"nominal","scale":{"domain":["NYU","ADNI","NACC"],"range":["circle","triangle-up","square"]},"legend":null}}},
{"data":{"name":"f8"},"mark":{"type":"line","color":"#dc1f26","strokeWidth":2.5,"interpolate":"monotone","clip":true},
"encoding":{"x":{"field":"x","type":"quantitative","scale":{"domain":[-3.2,3.15],"nice":false,"zero":false},"axis":{"orient":"top","labels":false,"ticks":false,"title":"NYU, ADNI, NACC","titleFontWeight":"bold","titleAlign":"right","titleX":91.5,"titleY":-34}},
"y":{"field":"y","type":"quantitative","scale":{"domain":[-3.12,3.27],"nice":false,"zero":false},"axis":{"orient":"left","labels":false,"ticks":false,"title":"T-tau","titleFontWeight":"bold","titleFontSize":10.5,"titleAlign":"center","titleX":-9.2,"titleY":-21}}}},
{"data":{"values":[]},"mark":"point",
"encoding":{"x":{"field":"x","type":"quantitative","scale":{"domain":[-3.2,3.15],"nice":false,"zero":false},"axis":{"orient":"top","labels":false,"ticks":false,"title":"(n=766)","titleAlign":"left","titleX":94.5,"titleY":-34}},
"y":{"field":"y","type":"quantitative","scale":{"domain":[-3.12,3.27],"nice":false,"zero":false},"axis":{"orient":"left","labels":false,"ticks":false,"title":".","titleOpacity":0,"titleAlign":"left","titleBaseline":"top","titleX":-30,"titleY":-43}}}},
{"data":{"values":[]},"mark":"point",
"encoding":{"x":{"field":"x","type":"quantitative","scale":{"domain":[-3.2,3.15],"nice":false,"zero":false},"axis":{"orient":"top","labels":false,"ticks":false,"title":["Quadratic Fit","F=33.2, p<.01"],"titleAlign":"center","titleX":66.5,"titleY":-18,"titleLineHeight":11.6}}}}
]}
]
}
